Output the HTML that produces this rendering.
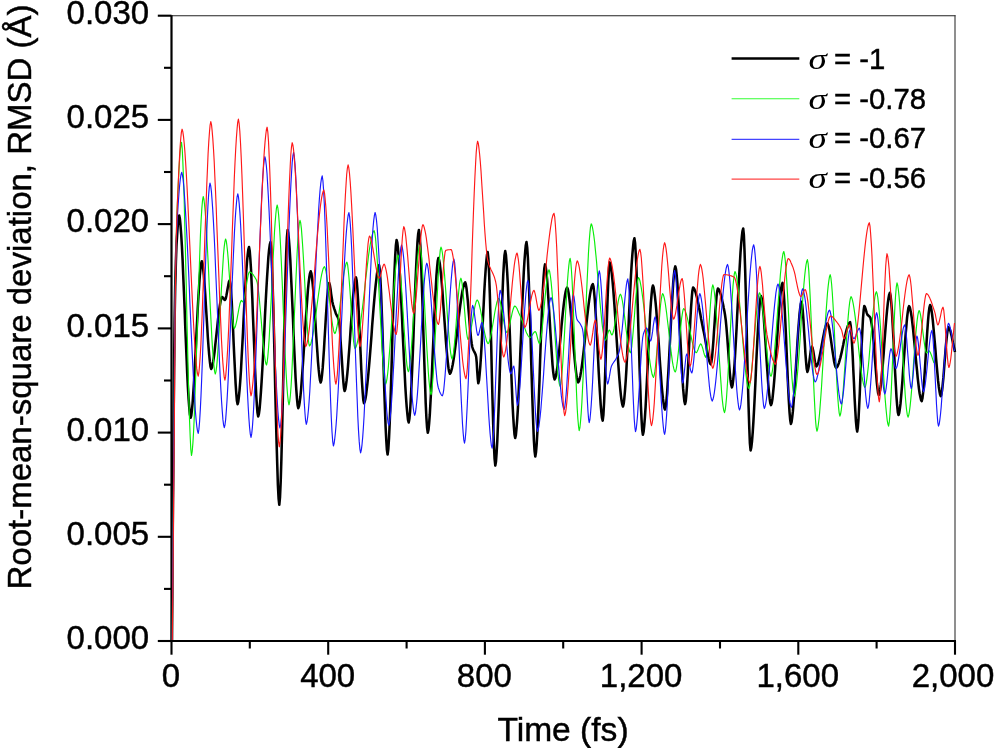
<!DOCTYPE html>
<html><head><meta charset="utf-8"><title>RMSD</title><style>html,body{margin:0;padding:0;background:#fff}body{width:995px;height:748px;overflow:hidden}</style></head><body><svg width="995" height="748" viewBox="0 0 995 748" style="display:block">
<rect width="995" height="748" fill="#fff"/>
<line x1="171.5" y1="15.7" x2="955.5" y2="15.7" stroke="#222" stroke-width="1.1"/>
<line x1="955.0" y1="15.2" x2="955.0" y2="641.0" stroke="#333" stroke-width="1.1"/>
<line x1="171.5" y1="15.2" x2="171.5" y2="642.0" stroke="#000" stroke-width="2.2"/>
<line x1="170.5" y1="641.0" x2="956.0" y2="641.0" stroke="#000" stroke-width="2.2"/>
<line x1="171.5" y1="641.0" x2="171.5" y2="654.7" stroke="#000" stroke-width="2.1"/>
<line x1="249.8" y1="641.0" x2="249.8" y2="648.5" stroke="#000" stroke-width="2.1"/>
<line x1="328.2" y1="641.0" x2="328.2" y2="654.7" stroke="#000" stroke-width="2.1"/>
<line x1="406.6" y1="641.0" x2="406.6" y2="648.5" stroke="#000" stroke-width="2.1"/>
<line x1="484.9" y1="641.0" x2="484.9" y2="654.7" stroke="#000" stroke-width="2.1"/>
<line x1="563.2" y1="641.0" x2="563.2" y2="648.5" stroke="#000" stroke-width="2.1"/>
<line x1="641.6" y1="641.0" x2="641.6" y2="654.7" stroke="#000" stroke-width="2.1"/>
<line x1="720.0" y1="641.0" x2="720.0" y2="648.5" stroke="#000" stroke-width="2.1"/>
<line x1="798.3" y1="641.0" x2="798.3" y2="654.7" stroke="#000" stroke-width="2.1"/>
<line x1="876.6" y1="641.0" x2="876.6" y2="648.5" stroke="#000" stroke-width="2.1"/>
<line x1="955.0" y1="641.0" x2="955.0" y2="654.7" stroke="#000" stroke-width="2.1"/>
<line x1="157.8" y1="641.0" x2="171.5" y2="641.0" stroke="#000" stroke-width="2.1"/>
<line x1="164.0" y1="588.9" x2="171.5" y2="588.9" stroke="#000" stroke-width="2.1"/>
<line x1="157.8" y1="536.8" x2="171.5" y2="536.8" stroke="#000" stroke-width="2.1"/>
<line x1="164.0" y1="484.7" x2="171.5" y2="484.7" stroke="#000" stroke-width="2.1"/>
<line x1="157.8" y1="432.6" x2="171.5" y2="432.6" stroke="#000" stroke-width="2.1"/>
<line x1="164.0" y1="380.5" x2="171.5" y2="380.5" stroke="#000" stroke-width="2.1"/>
<line x1="157.8" y1="328.4" x2="171.5" y2="328.4" stroke="#000" stroke-width="2.1"/>
<line x1="164.0" y1="276.2" x2="171.5" y2="276.2" stroke="#000" stroke-width="2.1"/>
<line x1="157.8" y1="224.1" x2="171.5" y2="224.1" stroke="#000" stroke-width="2.1"/>
<line x1="164.0" y1="172.0" x2="171.5" y2="172.0" stroke="#000" stroke-width="2.1"/>
<line x1="157.8" y1="119.9" x2="171.5" y2="119.9" stroke="#000" stroke-width="2.1"/>
<line x1="164.0" y1="67.8" x2="171.5" y2="67.8" stroke="#000" stroke-width="2.1"/>
<line x1="157.8" y1="15.7" x2="171.5" y2="15.7" stroke="#000" stroke-width="2.1"/>
<path d="M172.0,640.0 L172.5,567.3 L173.0,494.6 L173.5,430.0 L174.1,367.2 L174.6,320.0 L175.2,286.5 L175.9,261.1 L176.5,245.0 L177.2,233.9 L177.8,224.8 L178.5,218.5 L179.2,215.6 L179.9,218.8 L180.5,225.3 L181.2,234.5 L181.9,246.2 L182.6,259.9 L183.2,275.0 L183.9,291.3 L184.6,308.1 L185.2,325.3 L185.9,342.1 L186.6,358.4 L187.2,373.5 L187.9,387.2 L188.6,398.9 L189.3,408.1 L189.9,414.6 L190.6,417.8 L191.3,415.3 L191.9,410.3 L192.6,403.1 L193.2,394.1 L193.9,383.5 L194.6,371.8 L195.2,359.2 L195.9,346.1 L196.5,332.9 L197.2,319.8 L197.8,307.2 L198.5,295.5 L199.2,284.9 L199.8,275.9 L200.5,268.7 L201.1,263.7 L201.8,261.2 L202.5,263.5 L203.1,268.3 L203.8,275.2 L204.5,283.7 L205.2,293.5 L205.8,304.1 L206.5,315.1 L207.2,326.1 L207.8,336.7 L208.5,346.5 L209.2,355.0 L209.9,361.9 L210.5,366.7 L211.2,369.0 L211.9,367.7 L212.5,365.2 L213.2,361.5 L213.9,356.9 L214.6,351.6 L215.2,345.7 L215.9,339.4 L216.6,333.0 L217.3,326.6 L217.9,320.3 L218.6,314.4 L219.3,309.1 L220.0,304.5 L220.7,300.8 L221.3,298.3 L222.0,297.0 L222.6,297.3 L223.2,298.1 L223.8,298.9 L224.4,299.7 L225.0,300.0 L225.7,298.7 L226.3,295.9 L227.0,292.2 L227.7,288.1 L228.4,284.4 L229.0,281.6 L229.7,280.3 L230.4,283.7 L231.0,290.9 L231.7,301.1 L232.3,313.5 L233.0,327.5 L233.6,342.2 L234.3,357.0 L235.0,371.0 L235.6,383.4 L236.3,393.6 L236.9,400.8 L237.6,404.2 L238.3,401.7 L238.9,396.7 L239.6,389.5 L240.3,380.4 L241.0,369.8 L241.6,358.0 L242.3,345.4 L243.0,332.3 L243.6,319.0 L244.3,305.9 L245.0,293.3 L245.6,281.5 L246.3,270.9 L247.0,261.8 L247.7,254.6 L248.3,249.6 L249.0,247.1 L249.7,250.7 L250.3,258.3 L251.0,269.0 L251.6,282.4 L252.3,297.8 L252.9,314.4 L253.6,331.8 L254.3,349.1 L254.9,365.7 L255.6,381.1 L256.2,394.5 L256.9,405.2 L257.5,412.8 L258.2,416.4 L258.9,413.9 L259.6,408.8 L260.2,401.6 L260.9,392.4 L261.6,381.7 L262.3,369.7 L263.0,356.7 L263.7,343.1 L264.4,329.2 L265.0,315.4 L265.7,301.8 L266.4,288.8 L267.1,276.8 L267.8,266.1 L268.4,256.9 L269.1,249.7 L269.8,244.6 L270.5,242.1 L271.2,248.4 L271.9,261.7 L272.5,280.6 L273.2,304.0 L273.9,330.5 L274.6,358.9 L275.2,388.0 L275.9,416.4 L276.6,442.9 L277.3,466.3 L277.9,485.2 L278.6,498.5 L279.3,504.8 L280.0,497.3 L280.7,481.4 L281.4,458.8 L282.1,431.1 L282.8,400.1 L283.5,367.4 L284.1,334.7 L284.8,303.7 L285.5,276.0 L286.2,253.4 L286.9,237.5 L287.6,230.0 L288.3,233.1 L288.9,239.4 L289.6,248.5 L290.3,259.8 L290.9,273.1 L291.6,287.6 L292.3,303.1 L293.0,319.1 L293.6,335.1 L294.3,350.6 L295.0,365.1 L295.6,378.4 L296.3,389.7 L297.0,398.8 L297.6,405.1 L298.3,408.2 L299.0,406.2 L299.7,402.2 L300.4,396.5 L301.1,389.3 L301.7,380.9 L302.4,371.5 L303.1,361.3 L303.8,350.7 L304.5,339.8 L305.2,328.8 L305.9,318.2 L306.6,308.0 L307.3,298.6 L307.9,290.2 L308.6,283.0 L309.3,277.3 L310.0,273.3 L310.7,271.3 L311.4,273.4 L312.0,277.8 L312.7,284.1 L313.4,292.0 L314.0,301.1 L314.7,311.1 L315.4,321.6 L316.0,332.2 L316.7,342.7 L317.4,352.7 L318.0,361.8 L318.7,369.7 L319.4,376.0 L320.0,380.4 L320.7,382.5 L321.4,380.1 L322.0,375.1 L322.7,367.9 L323.3,359.1 L324.0,349.0 L324.6,338.3 L325.3,327.2 L325.9,316.5 L326.6,306.4 L327.2,297.6 L327.9,290.4 L328.5,285.4 L329.2,283.0 L329.8,284.8 L330.5,288.7 L331.1,293.6 L331.8,298.3 L332.4,302.0 L333.0,304.6 L333.7,306.8 L334.3,308.9 L335.0,310.8 L335.6,312.7 L336.2,314.3 L336.8,315.5 L337.5,316.7 L338.1,318.0 L338.7,319.9 L339.3,322.4 L339.9,328.3 L340.4,337.9 L341.0,347.0 L341.6,355.7 L342.2,365.2 L342.8,374.4 L343.4,382.4 L344.0,388.2 L344.6,391.0 L345.3,389.2 L345.9,385.6 L346.6,380.4 L347.3,373.8 L348.0,366.1 L348.6,357.6 L349.3,348.5 L350.0,339.0 L350.6,329.4 L351.3,319.9 L352.0,310.8 L352.6,302.3 L353.3,294.6 L354.0,288.0 L354.7,282.8 L355.3,279.2 L356.0,277.4 L356.7,280.8 L357.3,288.1 L358.0,298.5 L358.7,311.2 L359.3,325.4 L360.0,340.3 L360.7,355.3 L361.3,369.5 L362.0,382.2 L362.7,392.6 L363.3,399.9 L364.0,403.3 L364.7,401.8 L365.4,399.0 L366.1,394.9 L366.7,389.7 L367.4,383.6 L368.1,376.6 L368.8,368.9 L369.5,360.8 L370.2,352.1 L370.9,343.3 L371.6,334.2 L372.2,325.2 L372.9,316.4 L373.6,307.7 L374.3,299.6 L375.0,291.9 L375.7,284.9 L376.4,278.8 L377.0,273.6 L377.7,269.5 L378.4,266.7 L379.1,265.2 L379.8,269.8 L380.4,279.3 L381.1,293.0 L381.7,309.8 L382.4,328.9 L383.0,349.4 L383.7,370.3 L384.3,390.8 L385.0,409.9 L385.6,426.7 L386.3,440.4 L386.9,449.9 L387.6,454.5 L388.3,449.3 L389.0,438.5 L389.7,423.0 L390.4,404.0 L391.1,382.3 L391.8,359.1 L392.4,335.4 L393.1,312.2 L393.8,290.5 L394.5,271.5 L395.2,256.0 L395.9,245.2 L396.6,240.0 L397.3,242.6 L397.9,247.9 L398.6,255.5 L399.3,265.1 L400.0,276.4 L400.6,288.9 L401.3,302.5 L402.0,316.7 L402.6,331.2 L403.3,345.7 L404.0,359.9 L404.7,373.5 L405.3,386.0 L406.0,397.3 L406.7,406.9 L407.4,414.5 L408.0,419.8 L408.7,422.4 L409.4,418.7 L410.1,411.1 L410.7,400.2 L411.4,386.5 L412.1,370.8 L412.8,353.6 L413.5,335.4 L414.1,317.0 L414.8,298.8 L415.5,281.6 L416.2,265.9 L416.9,252.2 L417.5,241.3 L418.2,233.7 L418.9,230.0 L419.6,234.9 L420.3,245.1 L421.0,259.7 L421.6,277.8 L422.3,298.3 L423.0,320.2 L423.7,342.6 L424.4,364.5 L425.1,385.0 L425.7,403.1 L426.4,417.7 L427.1,427.9 L427.8,432.8 L428.5,429.8 L429.1,423.6 L429.8,414.7 L430.4,403.5 L431.1,390.6 L431.8,376.3 L432.4,361.1 L433.1,345.5 L433.8,329.8 L434.4,314.6 L435.1,300.3 L435.8,287.4 L436.4,276.2 L437.1,267.3 L437.7,261.1 L438.4,258.1 L439.1,259.9 L439.8,263.6 L440.4,268.9 L441.1,275.6 L441.8,283.4 L442.5,292.1 L443.1,301.4 L443.8,311.0 L444.5,320.8 L445.2,330.4 L445.8,339.7 L446.5,348.4 L447.2,356.2 L447.9,362.9 L448.5,368.2 L449.2,371.9 L449.9,373.7 L450.6,372.7 L451.3,370.8 L452.0,368.1 L452.7,364.7 L453.4,360.6 L454.1,356.0 L454.8,351.0 L455.5,345.5 L456.2,339.8 L456.9,334.0 L457.5,328.0 L458.2,322.0 L458.9,316.2 L459.6,310.5 L460.3,305.0 L461.0,300.0 L461.7,295.4 L462.4,291.3 L463.1,287.9 L463.8,285.2 L464.5,283.3 L465.2,282.3 L465.8,284.2 L466.5,288.2 L467.1,293.8 L467.8,300.6 L468.4,308.3 L469.1,316.3 L469.7,324.2 L470.4,331.7 L471.0,338.3 L471.7,343.5 L472.3,347.0 L472.9,349.0 L473.6,350.5 L474.2,351.6 L474.9,352.9 L475.6,354.5 L476.2,357.0 L476.7,362.3 L477.2,371.0 L477.8,379.2 L478.3,383.3 L479.0,380.5 L479.6,374.7 L480.3,366.3 L481.0,355.9 L481.7,344.0 L482.3,331.1 L483.0,317.7 L483.7,304.3 L484.3,291.4 L485.0,279.5 L485.7,269.1 L486.4,260.7 L487.0,254.9 L487.7,252.1 L488.4,258.8 L489.1,273.1 L489.8,293.4 L490.5,317.9 L491.2,344.9 L491.8,372.8 L492.5,399.8 L493.2,424.3 L493.9,444.6 L494.6,458.9 L495.3,465.6 L496.0,461.5 L496.6,453.0 L497.3,440.8 L497.9,425.6 L498.6,408.1 L499.3,388.9 L499.9,368.6 L500.6,348.1 L501.2,327.8 L501.9,308.6 L502.6,291.1 L503.2,275.9 L503.9,263.7 L504.5,255.2 L505.2,251.1 L505.9,254.7 L506.5,262.1 L507.2,272.7 L507.9,285.9 L508.5,301.2 L509.2,318.0 L509.9,335.6 L510.5,353.5 L511.2,371.1 L511.9,387.9 L512.5,403.2 L513.2,416.4 L513.9,427.0 L514.5,434.4 L515.2,438.0 L515.9,434.9 L516.5,428.6 L517.2,419.6 L517.9,408.3 L518.5,395.1 L519.2,380.4 L519.9,364.7 L520.5,348.3 L521.2,331.8 L521.8,315.4 L522.5,299.7 L523.2,285.0 L523.8,271.8 L524.5,260.5 L525.2,251.5 L525.8,245.2 L526.5,242.1 L527.2,247.3 L527.9,258.1 L528.5,273.5 L529.2,292.6 L529.9,314.3 L530.6,337.4 L531.2,361.2 L531.9,384.3 L532.6,406.0 L533.3,425.1 L533.9,440.5 L534.6,451.3 L535.3,456.5 L536.0,452.4 L536.7,443.8 L537.4,431.6 L538.1,416.4 L538.8,399.0 L539.5,380.1 L540.1,360.4 L540.8,340.8 L541.5,321.9 L542.2,304.5 L542.9,289.3 L543.6,277.1 L544.3,268.5 L545.0,264.4 L545.7,266.9 L546.4,272.0 L547.1,279.3 L547.7,288.4 L548.4,298.8 L549.1,310.1 L549.8,321.9 L550.5,333.7 L551.2,345.0 L551.9,355.4 L552.5,364.5 L553.2,371.8 L553.9,376.9 L554.6,379.4 L555.3,378.1 L556.0,375.4 L556.7,371.6 L557.4,366.7 L558.1,361.1 L558.8,354.8 L559.5,347.9 L560.2,340.8 L560.9,333.4 L561.5,326.1 L562.2,319.0 L562.9,312.1 L563.6,305.8 L564.3,300.2 L565.0,295.3 L565.7,291.5 L566.4,288.8 L567.1,287.5 L567.8,289.1 L568.5,292.5 L569.2,297.3 L569.9,303.4 L570.6,310.4 L571.3,318.2 L572.0,326.4 L572.7,334.9 L573.3,343.5 L574.0,351.7 L574.7,359.5 L575.4,366.5 L576.1,372.6 L576.8,377.4 L577.5,380.8 L578.2,382.4 L578.9,381.3 L579.6,379.1 L580.3,375.9 L581.0,371.9 L581.7,367.2 L582.4,361.9 L583.1,356.0 L583.8,349.8 L584.5,343.3 L585.2,336.6 L585.8,329.9 L586.5,323.2 L587.2,316.7 L587.9,310.5 L588.6,304.6 L589.3,299.3 L590.0,294.6 L590.7,290.6 L591.4,287.4 L592.1,285.2 L592.8,284.1 L593.5,286.7 L594.1,292.1 L594.8,299.9 L595.4,309.5 L596.1,320.7 L596.8,332.9 L597.4,345.8 L598.1,358.9 L598.7,371.8 L599.4,384.0 L600.1,395.2 L600.7,404.8 L601.4,412.6 L602.0,418.0 L602.7,420.6 L603.4,414.8 L604.1,402.3 L604.8,384.8 L605.5,364.0 L606.2,341.5 L606.9,319.0 L607.6,298.2 L608.3,280.7 L609.0,268.2 L609.7,262.4 L610.4,264.3 L611.1,268.1 L611.8,273.6 L612.5,280.5 L613.2,288.7 L613.9,297.8 L614.6,307.7 L615.3,318.2 L616.0,329.0 L616.7,339.9 L617.4,350.7 L618.1,361.2 L618.8,371.1 L619.5,380.2 L620.2,388.4 L620.9,395.3 L621.6,400.8 L622.3,404.6 L623.0,406.5 L623.7,403.8 L624.3,398.5 L625.0,390.7 L625.7,381.0 L626.4,369.7 L627.0,357.1 L627.7,343.6 L628.4,329.5 L629.0,315.3 L629.7,301.2 L630.4,287.7 L631.0,275.1 L631.7,263.8 L632.4,254.1 L633.1,246.3 L633.7,241.0 L634.4,238.3 L635.1,243.0 L635.7,252.9 L636.4,267.1 L637.0,284.6 L637.7,304.4 L638.3,325.6 L639.0,347.4 L639.6,368.6 L640.3,388.4 L640.9,405.9 L641.6,420.1 L642.2,430.0 L642.9,434.7 L643.6,431.8 L644.2,425.9 L644.9,417.5 L645.6,406.9 L646.2,394.7 L646.9,381.3 L647.6,367.3 L648.2,352.9 L648.9,338.9 L649.6,325.5 L650.2,313.3 L650.9,302.7 L651.6,294.3 L652.2,288.4 L652.9,285.5 L653.6,287.3 L654.2,290.9 L654.9,296.1 L655.6,302.6 L656.3,310.2 L656.9,318.8 L657.6,328.0 L658.3,337.6 L659.0,347.5 L659.6,357.4 L660.3,367.0 L661.0,376.2 L661.6,384.8 L662.3,392.4 L663.0,398.9 L663.7,404.1 L664.3,407.7 L665.0,409.5 L665.7,406.8 L666.4,401.1 L667.1,393.0 L667.7,382.8 L668.4,371.1 L669.1,358.3 L669.8,344.8 L670.5,331.1 L671.2,317.6 L671.9,304.8 L672.6,293.1 L673.2,282.9 L673.9,274.8 L674.6,269.1 L675.3,266.4 L676.0,269.0 L676.6,274.5 L677.3,282.3 L677.9,292.1 L678.6,303.3 L679.2,315.7 L679.9,328.6 L680.5,341.9 L681.2,354.8 L681.8,367.2 L682.5,378.4 L683.1,388.2 L683.8,396.0 L684.4,401.5 L685.1,404.1 L685.8,400.9 L686.4,394.2 L687.1,384.6 L687.8,372.8 L688.4,359.7 L689.1,345.8 L689.8,331.9 L690.4,318.8 L691.1,307.0 L691.8,297.4 L692.4,290.7 L693.1,287.5 L693.8,288.1 L694.4,289.3 L695.1,290.9 L695.8,293.0 L696.4,295.5 L697.1,298.2 L697.8,301.3 L698.5,304.5 L699.1,308.0 L699.8,311.5 L700.5,315.1 L701.1,318.7 L701.8,322.2 L702.5,325.7 L703.1,328.9 L703.8,332.0 L704.5,335.4 L705.2,339.2 L705.9,343.3 L706.6,347.4 L707.3,351.5 L708.0,355.3 L708.7,358.7 L709.4,361.4 L710.1,363.4 L710.8,364.3 L711.4,361.9 L712.1,356.8 L712.7,349.6 L713.4,340.9 L714.0,331.3 L714.7,321.5 L715.3,311.9 L716.0,303.2 L716.6,296.0 L717.3,290.9 L717.9,288.5 L718.5,289.1 L719.2,290.1 L719.8,291.6 L720.5,293.6 L721.1,295.9 L721.8,298.5 L722.4,301.4 L723.1,304.5 L723.7,307.8 L724.4,311.2 L725.0,314.7 L725.7,319.7 L726.4,326.8 L727.1,335.4 L727.8,344.9 L728.5,354.7 L729.1,364.2 L729.8,372.8 L730.5,379.9 L731.2,385.0 L731.9,387.4 L732.6,384.9 L733.2,379.8 L733.9,372.5 L734.6,363.3 L735.2,352.6 L735.9,340.7 L736.6,327.9 L737.2,314.7 L737.9,301.2 L738.5,288.0 L739.2,275.2 L739.9,263.3 L740.5,252.6 L741.2,243.4 L741.9,236.1 L742.5,231.0 L743.2,228.5 L743.9,235.5 L744.5,250.4 L745.2,271.4 L745.9,296.9 L746.6,325.0 L747.2,353.9 L747.9,382.0 L748.6,407.5 L749.3,428.5 L749.9,443.4 L750.6,450.4 L751.3,447.4 L752.0,441.3 L752.7,432.6 L753.4,421.6 L754.1,409.0 L754.8,395.2 L755.5,380.6 L756.1,365.9 L756.8,351.3 L757.5,337.5 L758.2,324.9 L758.9,313.9 L759.6,305.2 L760.3,299.1 L761.0,296.1 L761.7,298.2 L762.3,302.5 L763.0,308.7 L763.7,316.4 L764.3,325.3 L765.0,335.1 L765.7,345.4 L766.3,355.8 L767.0,366.1 L767.7,375.9 L768.3,384.8 L769.0,392.5 L769.7,398.7 L770.3,403.0 L771.0,405.1 L771.7,403.2 L772.4,399.3 L773.0,393.6 L773.7,386.6 L774.4,378.4 L775.1,369.2 L775.7,359.4 L776.4,349.2 L777.1,338.8 L777.8,328.6 L778.4,318.8 L779.1,309.6 L779.8,301.4 L780.5,294.4 L781.1,288.7 L781.8,284.8 L782.5,282.9 L783.2,286.8 L783.9,294.9 L784.6,306.5 L785.3,320.7 L786.0,336.6 L786.7,353.4 L787.4,370.2 L788.1,386.1 L788.8,400.3 L789.5,411.9 L790.2,420.0 L790.9,423.9 L791.6,421.8 L792.2,417.4 L792.9,411.2 L793.5,403.4 L794.2,394.4 L794.9,384.4 L795.5,373.7 L796.2,362.8 L796.9,351.9 L797.5,341.2 L798.2,331.2 L798.9,322.2 L799.5,314.4 L800.2,308.2 L800.8,303.8 L801.5,301.7 L802.2,304.8 L802.8,311.4 L803.5,320.5 L804.1,331.2 L804.8,342.4 L805.4,353.1 L806.1,362.2 L806.7,368.8 L807.4,371.9 L808.0,370.2 L808.7,366.6 L809.3,361.8 L810.0,356.6 L810.6,351.8 L811.3,348.2 L811.9,346.5 L812.5,347.8 L813.2,350.7 L813.8,354.4 L814.4,358.5 L815.0,362.2 L815.7,365.1 L816.3,366.4 L817.0,365.7 L817.7,364.1 L818.4,361.9 L819.0,359.2 L819.7,356.0 L820.4,352.5 L821.1,348.7 L821.8,344.8 L822.5,341.0 L823.2,337.2 L823.9,333.7 L824.5,330.5 L825.2,327.8 L825.9,325.6 L826.6,324.0 L827.3,323.3 L828.0,324.4 L828.7,326.6 L829.4,329.8 L830.0,333.8 L830.7,338.3 L831.4,343.1 L832.1,348.1 L832.8,352.9 L833.5,357.4 L834.1,361.4 L834.8,364.6 L835.5,366.8 L836.2,367.9 L836.9,367.3 L837.6,366.2 L838.3,364.6 L839.0,362.6 L839.7,360.2 L840.4,357.6 L841.1,354.6 L841.8,351.6 L842.5,348.3 L843.2,345.1 L843.8,341.8 L844.5,338.5 L845.2,335.5 L845.9,332.5 L846.6,329.9 L847.3,327.5 L848.0,325.5 L848.7,323.9 L849.4,322.8 L850.1,322.2 L850.7,325.6 L851.4,333.0 L852.0,343.4 L852.7,355.9 L853.3,369.8 L854.0,384.0 L854.6,397.9 L855.3,410.4 L855.9,420.8 L856.6,428.2 L857.2,431.6 L857.8,427.7 L858.5,419.2 L859.1,407.3 L859.8,392.9 L860.4,377.0 L861.1,360.6 L861.7,344.7 L862.4,330.3 L863.0,318.4 L863.7,309.9 L864.3,306.0 L864.9,306.9 L865.5,308.7 L866.2,311.0 L866.8,313.1 L867.4,314.6 L868.0,315.3 L868.6,315.8 L869.1,316.2 L869.7,316.7 L870.3,317.6 L870.9,319.9 L871.6,323.7 L872.2,328.0 L872.9,333.4 L873.5,340.4 L874.2,348.5 L874.8,357.3 L875.5,366.1 L876.2,374.6 L876.8,382.2 L877.5,388.5 L878.1,393.0 L878.8,395.1 L879.5,393.3 L880.2,389.7 L880.9,384.5 L881.6,378.0 L882.3,370.4 L883.0,362.0 L883.7,353.1 L884.3,343.9 L885.0,334.8 L885.7,325.9 L886.4,317.5 L887.1,309.9 L887.8,303.4 L888.5,298.2 L889.2,294.6 L889.9,292.8 L890.6,295.7 L891.2,301.9 L891.9,310.7 L892.5,321.6 L893.2,333.9 L893.9,347.1 L894.5,360.7 L895.2,373.9 L895.9,386.2 L896.5,397.1 L897.2,405.9 L897.8,412.1 L898.5,415.0 L899.2,413.1 L899.8,409.2 L900.5,403.7 L901.1,396.8 L901.8,388.7 L902.5,379.8 L903.1,370.3 L903.8,360.6 L904.5,350.8 L905.1,341.3 L905.8,332.4 L906.5,324.3 L907.1,317.4 L907.8,311.9 L908.4,308.0 L909.1,306.1 L909.8,307.4 L910.4,309.9 L911.1,313.5 L911.8,318.1 L912.4,323.4 L913.1,329.4 L913.7,336.0 L914.4,342.9 L915.1,350.0 L915.7,357.2 L916.4,364.3 L917.1,371.2 L917.7,377.8 L918.4,383.8 L919.0,389.1 L919.7,393.7 L920.4,397.3 L921.0,399.8 L921.7,401.1 L922.4,398.5 L923.1,392.9 L923.8,385.0 L924.5,375.3 L925.2,364.5 L925.9,353.1 L926.6,341.6 L927.3,330.8 L928.0,321.1 L928.7,313.2 L929.4,307.6 L930.1,305.0 L930.8,306.6 L931.4,309.8 L932.1,314.5 L932.8,320.3 L933.4,327.0 L934.1,334.5 L934.8,342.4 L935.5,350.6 L936.1,358.8 L936.8,366.7 L937.5,374.2 L938.1,380.9 L938.8,386.7 L939.5,391.4 L940.1,394.6 L940.8,396.2 L941.4,394.3 L942.1,390.3 L942.7,384.6 L943.4,377.7 L944.0,369.9 L944.6,361.7 L945.3,353.4 L945.9,345.6 L946.6,338.7 L947.2,333.0 L947.9,329.0 L948.5,327.1 L949.1,327.8 L949.8,329.3 L950.5,331.3 L951.1,333.9 L951.8,336.8 L952.4,339.9 L953.0,343.1 L953.7,346.3 L954.4,349.3 L955.0,352.0" fill="none" stroke="#000" stroke-width="2.55" stroke-linejoin="round"/>
<path d="M172.2,640.0 L172.8,570.9 L173.4,501.9 L174.0,430.0 L174.5,358.0 L175.0,300.0 L175.6,265.9 L176.2,239.8 L176.7,220.0 L177.3,205.0 L178.0,189.4 L178.7,175.0 L179.4,162.5 L180.1,152.5 L180.8,145.6 L181.5,142.3 L182.2,148.3 L182.8,160.7 L183.5,178.5 L184.2,200.7 L184.8,226.3 L185.5,254.4 L186.2,283.9 L186.8,313.9 L187.5,343.4 L188.2,371.5 L188.8,397.1 L189.5,419.3 L190.2,437.1 L190.8,449.5 L191.5,455.5 L192.2,451.4 L192.9,443.1 L193.6,431.2 L194.3,416.3 L194.9,398.8 L195.6,379.4 L196.3,358.6 L197.0,337.0 L197.7,315.0 L198.4,293.4 L199.1,272.6 L199.8,253.2 L200.4,235.7 L201.1,220.8 L201.8,208.9 L202.5,200.6 L203.2,196.5 L203.9,199.1 L204.5,204.2 L205.2,211.6 L205.9,220.9 L206.6,231.9 L207.2,244.1 L207.9,257.3 L208.6,271.1 L209.2,285.2 L209.9,299.4 L210.6,313.2 L211.3,326.4 L211.9,338.6 L212.6,349.6 L213.3,358.9 L214.0,366.3 L214.6,371.4 L215.3,374.0 L216.0,371.4 L216.7,366.1 L217.4,358.4 L218.0,348.8 L218.7,337.8 L219.4,325.7 L220.1,313.0 L220.8,300.0 L221.5,287.3 L222.2,275.2 L222.9,264.2 L223.5,254.6 L224.2,246.9 L224.9,241.6 L225.6,239.0 L226.3,241.2 L226.9,245.7 L227.6,252.1 L228.3,260.1 L228.9,269.1 L229.6,278.8 L230.3,288.7 L231.0,298.4 L231.6,307.4 L232.3,315.4 L233.0,321.8 L233.6,326.3 L234.3,328.5 L234.9,327.6 L235.6,325.7 L236.2,323.1 L236.9,319.8 L237.5,316.3 L238.2,312.6 L238.8,309.1 L239.5,305.8 L240.1,303.2 L240.8,301.3 L241.4,300.4 L241.9,300.8 L242.5,301.6 L243.0,302.0 L243.6,300.9 L244.3,298.5 L244.9,295.2 L245.6,291.2 L246.2,286.9 L246.8,282.7 L247.5,278.7 L248.1,275.4 L248.8,273.0 L249.4,271.9 L250.0,272.1 L250.7,272.4 L251.3,272.8 L252.0,273.4 L252.6,274.1 L253.3,274.9 L253.9,275.8 L254.6,276.8 L255.2,277.9 L255.9,279.0 L256.5,280.3 L257.2,282.5 L257.8,286.3 L258.5,291.3 L259.2,297.5 L259.8,304.5 L260.5,312.0 L261.2,319.9 L261.8,327.8 L262.5,335.6 L263.2,343.0 L263.8,349.7 L264.5,355.5 L265.2,360.2 L265.8,363.4 L266.5,365.0 L267.2,362.2 L267.8,356.6 L268.5,348.4 L269.2,338.2 L269.8,326.3 L270.5,313.2 L271.2,299.3 L271.9,285.0 L272.5,270.7 L273.2,256.8 L273.9,243.7 L274.5,231.8 L275.2,221.6 L275.9,213.5 L276.5,207.8 L277.2,205.0 L277.9,208.2 L278.6,214.5 L279.3,223.7 L280.0,235.3 L280.7,248.7 L281.4,263.7 L282.1,279.8 L282.8,296.4 L283.4,313.4 L284.1,330.0 L284.8,346.1 L285.5,361.1 L286.2,374.5 L286.9,386.1 L287.6,395.3 L288.3,401.6 L289.0,404.8 L289.7,401.6 L290.4,395.1 L291.1,385.7 L291.8,373.9 L292.4,360.2 L293.1,345.1 L293.8,329.1 L294.5,312.6 L295.2,296.0 L295.9,280.0 L296.6,264.9 L297.2,251.2 L297.9,239.4 L298.6,230.0 L299.3,223.5 L300.0,220.3 L300.7,223.0 L301.4,228.6 L302.0,236.6 L302.7,246.5 L303.4,257.9 L304.1,270.3 L304.8,283.2 L305.4,296.0 L306.1,308.4 L306.8,319.8 L307.5,329.7 L308.1,337.7 L308.8,343.3 L309.5,346.0 L310.2,345.1 L310.9,343.5 L311.5,341.2 L312.2,338.2 L312.9,334.6 L313.6,330.6 L314.2,326.2 L314.9,321.5 L315.6,316.6 L316.3,311.5 L316.9,306.3 L317.6,301.1 L318.3,296.0 L319.0,291.1 L319.7,286.4 L320.3,282.0 L321.0,278.0 L321.7,274.4 L322.4,271.4 L323.0,269.1 L323.7,267.5 L324.4,266.6 L325.1,267.9 L325.8,270.5 L326.5,274.3 L327.2,279.1 L327.9,284.6 L328.6,290.6 L329.3,296.9 L329.9,303.3 L330.6,309.6 L331.3,315.6 L332.0,321.1 L332.7,325.9 L333.4,329.7 L334.1,332.3 L334.8,333.6 L335.5,332.6 L336.1,330.5 L336.8,327.5 L337.5,323.8 L338.2,319.4 L338.8,314.5 L339.5,309.2 L340.2,303.6 L340.9,297.9 L341.5,292.2 L342.2,286.6 L342.9,281.3 L343.5,276.4 L344.2,272.0 L344.9,268.3 L345.6,265.3 L346.2,263.2 L346.9,262.2 L347.6,264.6 L348.2,269.6 L348.9,276.7 L349.6,285.4 L350.3,295.1 L350.9,305.4 L351.6,315.7 L352.3,325.4 L353.0,334.1 L353.6,341.2 L354.3,346.2 L355.0,348.6 L355.7,347.7 L356.4,346.1 L357.0,343.8 L357.7,340.8 L358.4,337.3 L359.1,333.3 L359.8,328.8 L360.5,324.0 L361.1,318.8 L361.8,313.3 L362.5,307.6 L363.2,301.7 L363.9,295.7 L364.6,289.6 L365.2,283.5 L365.9,277.5 L366.6,271.6 L367.3,265.9 L368.0,260.4 L368.6,255.2 L369.3,250.4 L370.0,245.9 L370.7,241.9 L371.4,238.4 L372.1,235.4 L372.7,233.1 L373.4,231.5 L374.1,230.6 L374.8,233.0 L375.5,237.9 L376.1,245.0 L376.8,253.9 L377.5,264.2 L378.2,275.7 L378.8,288.1 L379.5,300.9 L380.2,313.9 L380.9,326.7 L381.5,339.1 L382.2,350.6 L382.9,360.9 L383.6,369.8 L384.2,376.9 L384.9,381.8 L385.6,384.2 L386.3,382.3 L387.0,378.6 L387.7,373.2 L388.4,366.4 L389.0,358.4 L389.7,349.6 L390.4,340.0 L391.1,329.9 L391.8,319.6 L392.5,309.3 L393.2,299.2 L393.9,289.6 L394.6,280.8 L395.2,272.8 L395.9,266.0 L396.6,260.6 L397.3,256.9 L398.0,255.0 L398.7,257.2 L399.4,261.9 L400.1,268.5 L400.7,276.7 L401.4,286.3 L402.1,296.8 L402.8,307.8 L403.5,318.9 L404.2,329.9 L404.9,340.4 L405.6,350.0 L406.2,358.2 L406.9,364.8 L407.6,369.5 L408.3,371.7 L409.0,369.7 L409.6,365.6 L410.3,359.8 L411.0,352.5 L411.7,344.0 L412.3,334.5 L413.0,324.3 L413.7,313.7 L414.3,303.0 L415.0,292.4 L415.7,282.2 L416.3,272.7 L417.0,264.2 L417.7,256.9 L418.4,251.1 L419.0,247.0 L419.7,245.0 L420.4,247.4 L421.0,252.1 L421.7,259.0 L422.4,267.7 L423.0,277.7 L423.7,289.0 L424.4,301.0 L425.0,313.5 L425.7,326.1 L426.3,338.6 L427.0,350.6 L427.7,361.9 L428.3,371.9 L429.0,380.6 L429.7,387.5 L430.3,392.2 L431.0,394.6 L431.7,391.8 L432.3,385.9 L433.0,377.6 L433.7,367.1 L434.3,355.0 L435.0,341.8 L435.7,327.9 L436.3,313.8 L437.0,299.9 L437.7,286.7 L438.3,274.6 L439.0,264.1 L439.7,255.8 L440.3,249.9 L441.0,247.1 L441.7,249.0 L442.4,253.0 L443.1,258.7 L443.8,265.8 L444.5,274.1 L445.2,283.3 L445.9,293.0 L446.6,303.1 L447.2,313.1 L447.9,322.8 L448.6,332.0 L449.3,340.3 L450.0,347.4 L450.7,353.1 L451.4,357.1 L452.1,359.0 L452.8,357.1 L453.5,353.0 L454.1,347.2 L454.8,340.0 L455.5,331.8 L456.2,323.1 L456.8,314.1 L457.5,305.4 L458.2,297.2 L458.9,290.0 L459.5,284.2 L460.2,280.1 L460.9,278.2 L461.5,280.1 L462.2,284.2 L462.8,290.1 L463.5,297.1 L464.1,304.8 L464.8,312.9 L465.4,320.6 L466.1,327.6 L466.7,333.5 L467.4,337.6 L468.0,339.5 L468.7,338.7 L469.3,336.9 L470.0,334.4 L470.6,331.3 L471.3,327.7 L471.9,323.8 L472.6,319.8 L473.3,315.7 L473.9,311.8 L474.6,308.2 L475.2,305.1 L475.9,302.6 L476.5,300.8 L477.2,300.0 L477.9,300.8 L478.6,302.3 L479.2,304.5 L479.9,307.3 L480.6,310.5 L481.3,314.1 L482.0,317.9 L482.6,321.8 L483.3,325.7 L484.0,329.5 L484.7,333.1 L485.4,336.3 L486.1,339.1 L486.7,341.3 L487.4,342.8 L488.1,343.6 L488.8,342.8 L489.4,341.2 L490.1,338.9 L490.8,336.0 L491.4,332.7 L492.1,328.9 L492.7,325.0 L493.4,321.0 L494.1,316.9 L494.7,313.0 L495.4,309.2 L496.1,305.9 L496.7,303.0 L497.4,300.7 L498.0,299.1 L498.7,298.3 L499.4,299.2 L500.1,301.2 L500.7,304.0 L501.4,307.5 L502.1,311.3 L502.8,315.4 L503.4,319.5 L504.1,323.3 L504.8,326.8 L505.4,329.6 L506.1,331.6 L506.8,332.5 L507.5,331.8 L508.1,330.2 L508.8,328.1 L509.5,325.4 L510.1,322.4 L510.8,319.2 L511.5,316.1 L512.1,313.1 L512.8,310.4 L513.5,308.3 L514.1,306.7 L514.8,306.0 L515.4,306.4 L516.1,307.2 L516.8,308.3 L517.4,309.6 L518.0,311.1 L518.7,312.7 L519.4,314.2 L520.0,315.6 L520.7,317.0 L521.3,318.6 L522.0,320.3 L522.6,322.1 L523.3,324.0 L524.0,325.9 L524.6,327.8 L525.3,329.6 L525.9,331.3 L526.6,332.9 L527.3,334.3 L527.9,335.5 L528.6,336.5 L529.2,337.2 L529.9,337.5 L530.6,337.2 L531.2,336.5 L531.9,335.6 L532.6,334.5 L533.3,333.4 L533.9,332.5 L534.6,331.8 L535.3,331.5 L535.9,332.3 L536.5,334.0 L537.1,336.3 L537.7,338.8 L538.3,341.1 L538.9,342.8 L539.5,343.6 L540.2,342.0 L540.9,338.7 L541.5,334.0 L542.2,328.2 L542.9,321.5 L543.6,314.2 L544.2,306.7 L544.9,299.2 L545.6,291.9 L546.3,285.2 L547.0,279.4 L547.6,274.7 L548.3,271.4 L549.0,269.8 L549.7,271.8 L550.4,276.0 L551.1,281.9 L551.8,289.3 L552.5,298.0 L553.2,307.5 L553.9,317.7 L554.5,328.1 L555.2,338.5 L555.9,348.7 L556.6,358.2 L557.3,366.9 L558.0,374.3 L558.7,380.2 L559.4,384.4 L560.1,386.4 L560.8,383.9 L561.4,378.9 L562.1,371.6 L562.8,362.5 L563.4,352.1 L564.1,340.6 L564.8,328.5 L565.4,316.3 L566.1,304.2 L566.8,292.7 L567.4,282.3 L568.1,273.2 L568.8,265.9 L569.4,260.9 L570.1,258.4 L570.8,262.1 L571.4,269.8 L572.1,280.7 L572.7,294.4 L573.4,310.0 L574.0,326.9 L574.7,344.6 L575.3,362.2 L576.0,379.1 L576.6,394.7 L577.2,408.4 L577.9,419.3 L578.6,427.0 L579.2,430.7 L579.9,427.7 L580.5,421.7 L581.2,413.1 L581.9,402.2 L582.5,389.5 L583.2,375.2 L583.9,359.9 L584.5,343.7 L585.2,327.2 L585.9,310.8 L586.5,294.6 L587.2,279.3 L587.9,265.0 L588.5,252.3 L589.2,241.4 L589.9,232.8 L590.5,226.8 L591.2,223.8 L591.9,225.1 L592.5,227.7 L593.2,231.5 L593.9,236.2 L594.6,241.8 L595.2,248.1 L595.9,255.0 L596.6,262.4 L597.2,270.1 L597.9,278.0 L598.6,286.0 L599.3,293.9 L599.9,301.6 L600.6,309.0 L601.3,315.9 L601.9,322.2 L602.6,327.8 L603.3,332.5 L604.0,336.3 L604.6,338.9 L605.3,340.2 L606.0,339.3 L606.6,337.5 L607.3,335.1 L608.0,332.7 L608.6,330.9 L609.3,330.0 L610.0,330.8 L610.6,332.5 L611.3,334.2 L612.0,335.0 L612.7,333.9 L613.4,331.5 L614.1,328.2 L614.8,324.1 L615.5,319.5 L616.2,314.6 L616.9,309.7 L617.6,305.1 L618.3,301.0 L619.0,297.7 L619.7,295.3 L620.4,294.2 L621.1,295.3 L621.7,297.6 L622.4,301.0 L623.1,305.1 L623.7,309.9 L624.4,315.1 L625.1,320.6 L625.7,326.3 L626.4,331.8 L627.1,337.0 L627.7,341.8 L628.4,345.9 L629.1,349.3 L629.7,351.6 L630.4,352.7 L631.1,350.6 L631.8,346.3 L632.4,340.1 L633.1,332.5 L633.8,324.0 L634.5,315.1 L635.1,306.2 L635.8,297.7 L636.5,290.1 L637.1,283.9 L637.8,279.6 L638.5,277.5 L639.2,278.6 L639.9,280.6 L640.5,283.6 L641.2,287.3 L641.9,291.8 L642.6,296.8 L643.3,302.4 L644.0,308.3 L644.6,314.5 L645.3,320.9 L646.0,327.4 L646.7,334.0 L647.4,340.4 L648.0,346.6 L648.7,352.5 L649.4,358.1 L650.1,363.1 L650.8,367.6 L651.5,371.3 L652.1,374.3 L652.8,376.3 L653.5,377.4 L654.1,375.6 L654.8,371.9 L655.5,366.5 L656.1,359.9 L656.8,352.3 L657.4,344.1 L658.0,335.5 L658.7,326.9 L659.4,318.7 L660.0,311.1 L660.6,304.5 L661.3,299.1 L662.0,295.4 L662.6,293.6 L663.3,294.6 L663.9,296.7 L664.6,299.7 L665.3,303.5 L665.9,307.9 L666.6,312.9 L667.2,318.3 L667.9,324.0 L668.6,329.8 L669.2,335.8 L669.9,341.6 L670.6,347.3 L671.2,352.7 L671.9,357.7 L672.5,362.1 L673.2,365.9 L673.9,368.9 L674.5,371.0 L675.2,372.0 L675.9,370.5 L676.5,367.3 L677.2,362.7 L677.8,357.1 L678.5,350.7 L679.1,343.8 L679.8,336.8 L680.4,329.9 L681.1,323.5 L681.7,317.9 L682.4,313.3 L683.0,310.1 L683.7,308.6 L684.4,309.2 L685.1,310.5 L685.8,312.4 L686.5,314.7 L687.2,317.4 L687.9,320.4 L688.6,323.7 L689.3,327.1 L690.0,330.7 L690.6,334.2 L691.3,337.6 L692.0,340.9 L692.7,343.9 L693.4,346.6 L694.1,348.9 L694.8,350.8 L695.5,352.1 L696.2,352.7 L696.9,352.1 L697.5,350.8 L698.2,349.2 L698.8,347.3 L699.5,345.7 L700.1,344.4 L700.8,343.8 L701.4,344.5 L702.0,346.1 L702.7,348.2 L703.3,350.6 L703.9,352.9 L704.5,355.0 L705.2,356.6 L705.8,357.3 L706.5,354.6 L707.2,348.9 L707.9,340.9 L708.6,331.4 L709.3,321.1 L710.0,310.8 L710.7,301.3 L711.4,293.3 L712.1,287.6 L712.8,284.9 L713.5,286.9 L714.2,291.0 L714.9,296.9 L715.6,304.2 L716.2,312.9 L716.9,322.4 L717.6,332.7 L718.3,343.3 L719.0,354.2 L719.7,364.8 L720.4,375.1 L721.1,384.6 L721.7,393.3 L722.4,400.6 L723.1,406.5 L723.8,410.6 L724.5,412.6 L725.2,410.1 L725.8,405.1 L726.5,398.0 L727.1,389.0 L727.8,378.5 L728.4,367.0 L729.1,354.7 L729.8,342.0 L730.4,329.4 L731.1,317.1 L731.7,305.6 L732.4,295.1 L733.0,286.1 L733.7,279.0 L734.3,274.0 L735.0,271.5 L735.7,272.9 L736.4,275.8 L737.1,279.9 L737.8,285.0 L738.5,291.1 L739.1,298.0 L739.8,305.4 L740.5,313.4 L741.2,321.6 L741.9,330.0 L742.6,338.4 L743.3,346.6 L744.0,354.6 L744.7,362.0 L745.3,368.9 L746.0,375.0 L746.7,380.1 L747.4,384.2 L748.1,387.1 L748.8,388.5 L749.5,386.8 L750.1,383.4 L750.8,378.6 L751.5,372.5 L752.1,365.4 L752.8,357.5 L753.5,349.2 L754.1,340.7 L754.8,332.1 L755.5,323.8 L756.2,315.9 L756.8,308.8 L757.5,302.7 L758.2,297.9 L758.8,294.5 L759.5,292.8 L760.2,294.1 L760.9,296.8 L761.5,300.6 L762.2,305.4 L762.9,311.1 L763.6,317.3 L764.2,324.0 L764.9,331.0 L765.6,338.1 L766.3,345.1 L766.9,351.8 L767.6,358.0 L768.3,363.7 L769.0,368.5 L769.6,372.3 L770.3,375.0 L771.0,376.3 L771.7,374.6 L772.3,371.3 L773.0,366.6 L773.7,360.6 L774.4,353.5 L775.0,345.6 L775.7,337.0 L776.4,328.0 L777.1,318.6 L777.7,309.2 L778.4,299.8 L779.1,290.8 L779.8,282.2 L780.4,274.3 L781.1,267.2 L781.8,261.2 L782.5,256.5 L783.1,253.2 L783.8,251.5 L784.5,254.3 L785.2,260.0 L785.9,268.2 L786.6,278.5 L787.3,290.3 L788.0,303.3 L788.7,316.9 L789.3,330.8 L790.0,344.4 L790.7,357.4 L791.4,369.2 L792.1,379.5 L792.8,387.7 L793.5,393.4 L794.2,396.2 L794.9,394.4 L795.6,390.8 L796.3,385.6 L797.0,379.0 L797.7,371.3 L798.4,362.6 L799.1,353.2 L799.8,343.3 L800.5,333.1 L801.1,322.7 L801.8,312.5 L802.5,302.6 L803.2,293.2 L803.9,284.5 L804.6,276.8 L805.3,270.2 L806.0,265.0 L806.7,261.4 L807.4,259.6 L808.1,263.3 L808.8,270.9 L809.4,281.8 L810.1,295.4 L810.8,311.0 L811.5,327.9 L812.1,345.4 L812.8,362.9 L813.5,379.8 L814.2,395.4 L814.9,409.0 L815.5,419.9 L816.2,427.5 L816.9,431.2 L817.6,429.3 L818.2,425.5 L818.9,420.0 L819.6,413.1 L820.2,405.0 L820.9,395.8 L821.6,385.8 L822.2,375.2 L822.9,364.2 L823.5,352.9 L824.2,341.7 L824.9,330.7 L825.5,320.1 L826.2,310.1 L826.9,300.9 L827.5,292.8 L828.2,285.9 L828.9,280.4 L829.5,276.6 L830.2,274.7 L830.9,277.7 L831.6,284.0 L832.3,293.0 L833.0,304.2 L833.7,317.0 L834.4,330.9 L835.0,345.4 L835.7,359.9 L836.4,373.8 L837.1,386.6 L837.8,397.8 L838.5,406.8 L839.2,413.1 L839.9,416.1 L840.6,414.0 L841.3,409.8 L842.0,403.7 L842.7,396.1 L843.4,387.2 L844.1,377.4 L844.8,367.1 L845.5,356.4 L846.1,345.6 L846.8,335.3 L847.5,325.5 L848.2,316.6 L848.9,309.0 L849.6,302.9 L850.3,298.7 L851.0,296.6 L851.7,297.7 L852.4,299.9 L853.1,303.1 L853.8,307.1 L854.5,311.8 L855.2,317.1 L855.9,322.9 L856.6,329.1 L857.3,335.5 L858.0,342.0 L858.6,348.5 L859.3,354.9 L860.0,361.1 L860.7,366.9 L861.4,372.2 L862.1,376.9 L862.8,380.9 L863.5,384.1 L864.2,386.3 L864.9,387.4 L865.6,385.9 L866.3,382.8 L866.9,378.4 L867.6,372.9 L868.3,366.5 L869.0,359.3 L869.6,351.6 L870.3,343.6 L871.0,335.5 L871.7,327.5 L872.3,319.8 L873.0,312.6 L873.7,306.2 L874.4,300.7 L875.0,296.3 L875.7,293.2 L876.4,291.7 L877.1,293.7 L877.8,297.5 L878.4,303.1 L879.1,310.2 L879.8,318.5 L880.5,327.7 L881.1,337.7 L881.8,348.2 L882.5,358.9 L883.2,369.6 L883.9,380.1 L884.5,390.1 L885.2,399.3 L885.9,407.6 L886.6,414.7 L887.2,420.3 L887.9,424.1 L888.6,426.1 L889.3,422.2 L890.0,413.9 L890.7,402.1 L891.4,387.7 L892.1,371.5 L892.8,354.5 L893.5,337.5 L894.2,321.3 L894.9,306.9 L895.6,295.1 L896.3,286.8 L897.0,282.9 L897.7,285.2 L898.4,290.0 L899.1,296.8 L899.8,305.4 L900.4,315.3 L901.1,326.3 L901.8,338.0 L902.5,350.0 L903.2,362.1 L903.9,373.8 L904.6,384.8 L905.2,394.7 L905.9,403.3 L906.6,410.1 L907.3,414.9 L908.0,417.2 L908.7,415.3 L909.4,411.6 L910.1,406.1 L910.8,399.3 L911.5,391.4 L912.2,382.7 L912.9,373.4 L913.5,363.9 L914.2,354.3 L914.9,345.0 L915.6,336.3 L916.3,328.4 L917.0,321.6 L917.7,316.1 L918.4,312.4 L919.1,310.5 L919.8,311.8 L920.5,314.7 L921.1,318.7 L921.8,323.6 L922.5,329.0 L923.2,334.5 L923.9,339.9 L924.6,344.8 L925.2,348.8 L925.9,351.7 L926.6,353.0 L927.2,352.6 L927.8,351.8 L928.3,351.1 L928.9,350.7 L929.5,351.2 L930.2,352.3 L930.8,353.7 L931.5,355.5 L932.1,357.4 L932.7,359.4 L933.4,361.3 L934.0,363.0" fill="none" stroke="#08ee08" stroke-width="1.15" stroke-linejoin="round"/>
<path d="M172.2,640.0 L172.8,570.9 L173.4,501.9 L174.0,430.0 L174.5,356.9 L175.0,300.0 L175.6,268.0 L176.2,244.2 L176.9,227.1 L177.5,215.0 L178.2,204.0 L178.9,194.1 L179.6,185.7 L180.3,179.1 L181.0,174.6 L181.7,172.4 L182.4,174.9 L183.1,179.5 L183.8,186.2 L184.4,194.6 L185.1,204.7 L185.8,216.1 L186.5,228.8 L187.2,242.4 L187.9,256.8 L188.6,271.8 L189.3,287.3 L189.9,302.9 L190.6,318.5 L191.3,334.0 L192.0,349.0 L192.7,363.4 L193.4,377.0 L194.1,389.7 L194.8,401.1 L195.4,411.2 L196.1,419.6 L196.8,426.3 L197.5,430.9 L198.2,433.4 L198.9,429.4 L199.6,421.4 L200.3,409.9 L201.0,395.5 L201.7,378.6 L202.4,359.9 L203.1,339.8 L203.8,318.8 L204.4,297.7 L205.1,276.7 L205.8,256.6 L206.5,237.9 L207.2,221.0 L207.9,206.6 L208.6,195.1 L209.3,187.1 L210.0,183.1 L210.7,185.9 L211.4,191.4 L212.0,199.2 L212.7,209.1 L213.4,220.9 L214.1,234.2 L214.8,248.7 L215.4,264.2 L216.1,280.4 L216.8,297.0 L217.5,313.8 L218.2,330.4 L218.9,346.6 L219.5,362.1 L220.2,376.6 L220.9,389.9 L221.6,401.7 L222.3,411.6 L222.9,419.4 L223.6,424.9 L224.3,427.7 L225.0,424.8 L225.7,419.1 L226.3,411.0 L227.0,400.7 L227.7,388.5 L228.4,374.8 L229.0,359.9 L229.7,344.1 L230.4,327.6 L231.1,310.8 L231.7,294.0 L232.4,277.5 L233.1,261.7 L233.8,246.8 L234.4,233.1 L235.1,220.9 L235.8,210.6 L236.5,202.5 L237.1,196.8 L237.8,193.9 L238.5,197.2 L239.2,203.6 L239.9,212.9 L240.6,224.5 L241.3,238.3 L242.0,253.7 L242.7,270.5 L243.4,288.2 L244.1,306.4 L244.7,324.9 L245.4,343.1 L246.1,360.8 L246.8,377.6 L247.5,393.0 L248.2,406.8 L248.9,418.4 L249.6,427.7 L250.3,434.1 L251.0,437.4 L251.7,433.9 L252.4,427.1 L253.1,417.3 L253.8,405.0 L254.5,390.4 L255.2,373.9 L255.9,356.0 L256.6,337.0 L257.3,317.2 L257.9,297.1 L258.6,276.9 L259.3,257.1 L260.0,238.1 L260.7,220.2 L261.4,203.7 L262.1,189.1 L262.8,176.8 L263.5,167.0 L264.2,160.2 L264.9,156.7 L265.6,159.6 L266.3,165.2 L267.0,173.2 L267.6,183.4 L268.3,195.5 L269.0,209.2 L269.7,224.2 L270.4,240.3 L271.1,257.2 L271.8,274.6 L272.4,292.3 L273.1,310.1 L273.8,327.5 L274.5,344.4 L275.2,360.5 L275.9,375.5 L276.6,389.2 L277.3,401.3 L277.9,411.5 L278.6,419.5 L279.3,425.1 L280.0,428.0 L280.7,424.6 L281.4,417.9 L282.0,408.3 L282.7,396.2 L283.4,381.8 L284.1,365.7 L284.8,348.1 L285.4,329.4 L286.1,309.9 L286.8,290.1 L287.5,270.4 L288.2,250.9 L288.8,232.2 L289.5,214.6 L290.2,198.5 L290.9,184.1 L291.6,172.0 L292.2,162.4 L292.9,155.7 L293.6,152.3 L294.3,155.9 L294.9,163.1 L295.6,173.5 L296.3,186.5 L296.9,201.9 L297.6,219.1 L298.3,237.9 L298.9,257.6 L299.6,278.0 L300.3,298.6 L301.0,319.0 L301.6,338.7 L302.3,357.5 L303.0,374.7 L303.6,390.1 L304.3,403.1 L305.0,413.5 L305.6,420.7 L306.3,424.3 L307.0,421.8 L307.7,417.0 L308.4,410.2 L309.1,401.6 L309.8,391.3 L310.4,379.6 L311.1,366.8 L311.8,353.0 L312.5,338.4 L313.2,323.3 L313.9,307.8 L314.6,292.3 L315.3,276.8 L316.0,261.7 L316.7,247.1 L317.4,233.3 L318.1,220.5 L318.7,208.8 L319.4,198.5 L320.1,189.9 L320.8,183.1 L321.5,178.3 L322.2,175.8 L322.9,180.5 L323.6,190.1 L324.3,203.8 L325.0,221.1 L325.7,241.1 L326.4,263.2 L327.1,286.7 L327.8,310.9 L328.5,335.1 L329.2,358.6 L329.9,380.7 L330.6,400.7 L331.3,418.0 L332.0,431.7 L332.7,441.3 L333.4,446.0 L334.1,443.7 L334.7,439.2 L335.4,432.8 L336.1,424.7 L336.8,415.0 L337.4,404.1 L338.1,392.0 L338.8,379.0 L339.5,365.3 L340.1,351.1 L340.8,336.6 L341.5,322.0 L342.2,307.5 L342.8,293.3 L343.5,279.6 L344.2,266.6 L344.9,254.5 L345.5,243.6 L346.2,233.9 L346.9,225.8 L347.6,219.4 L348.2,214.9 L348.9,212.6 L349.6,216.4 L350.3,224.1 L351.0,235.1 L351.7,249.0 L352.3,265.2 L353.0,283.2 L353.7,302.5 L354.4,322.6 L355.1,342.9 L355.8,363.0 L356.5,382.3 L357.2,400.3 L357.8,416.5 L358.5,430.4 L359.2,441.4 L359.9,449.1 L360.6,452.9 L361.3,450.1 L362.0,444.8 L362.7,437.1 L363.4,427.3 L364.1,415.8 L364.7,402.7 L365.4,388.4 L366.1,373.2 L366.8,357.3 L367.5,340.9 L368.2,324.5 L368.9,308.1 L369.6,292.2 L370.3,277.0 L371.0,262.7 L371.6,249.6 L372.3,238.1 L373.0,228.3 L373.7,220.6 L374.4,215.3 L375.1,212.5 L375.8,215.1 L376.5,220.3 L377.2,227.7 L377.8,237.1 L378.5,248.2 L379.2,260.6 L379.9,274.2 L380.6,288.7 L381.3,303.7 L382.0,319.0 L382.6,334.2 L383.3,349.2 L384.0,363.7 L384.7,377.3 L385.4,389.7 L386.1,400.8 L386.7,410.2 L387.4,417.6 L388.1,422.8 L388.8,425.4 L389.5,423.0 L390.1,418.2 L390.8,411.4 L391.5,402.7 L392.2,392.5 L392.8,381.1 L393.5,368.7 L394.2,355.6 L394.9,342.0 L395.5,328.4 L396.2,314.8 L396.9,301.7 L397.6,289.3 L398.2,277.9 L398.9,267.7 L399.6,259.0 L400.3,252.2 L400.9,247.4 L401.6,245.0 L402.3,247.3 L403.0,251.8 L403.7,258.3 L404.4,266.4 L405.0,276.1 L405.7,286.8 L406.4,298.6 L407.1,310.9 L407.8,323.7 L408.5,336.6 L409.2,349.4 L409.9,361.7 L410.6,373.5 L411.3,384.2 L411.9,393.9 L412.6,402.0 L413.3,408.5 L414.0,413.0 L414.7,415.3 L415.4,413.1 L416.0,408.7 L416.7,402.3 L417.4,394.4 L418.1,385.0 L418.7,374.5 L419.4,363.2 L420.1,351.4 L420.8,339.2 L421.4,327.1 L422.1,315.3 L422.8,304.0 L423.4,293.5 L424.1,284.1 L424.8,276.2 L425.5,269.8 L426.1,265.4 L426.8,263.2 L427.5,265.1 L428.2,268.9 L428.8,274.4 L429.5,281.3 L430.2,289.3 L430.9,298.3 L431.6,308.0 L432.3,318.0 L432.9,328.3 L433.6,338.5 L434.3,348.5 L435.0,357.8 L435.7,366.4 L436.4,374.0 L437.0,380.3 L437.7,385.0 L438.4,388.0 L439.1,389.9 L439.7,391.7 L440.4,393.3 L441.1,394.5 L441.7,395.4 L442.4,395.8 L443.1,393.6 L443.8,389.3 L444.4,383.0 L445.1,375.1 L445.8,365.9 L446.5,355.6 L447.1,344.7 L447.8,333.2 L448.5,321.7 L449.2,310.2 L449.8,299.3 L450.5,289.0 L451.2,279.8 L451.9,271.9 L452.5,265.6 L453.2,261.3 L453.9,259.1 L454.6,262.3 L455.2,268.8 L455.9,278.2 L456.5,289.9 L457.2,303.6 L457.9,318.6 L458.5,334.6 L459.2,351.1 L459.9,367.6 L460.5,383.6 L461.2,398.6 L461.9,412.3 L462.5,424.0 L463.2,433.4 L463.8,439.9 L464.5,443.1 L465.2,439.3 L465.9,431.4 L466.5,420.0 L467.2,406.2 L467.9,390.6 L468.6,374.2 L469.2,357.9 L469.9,342.3 L470.6,328.5 L471.2,317.1 L471.9,309.2 L472.6,305.4 L473.3,307.0 L474.0,310.4 L474.6,315.1 L475.3,320.4 L476.0,325.8 L476.6,330.5 L477.3,333.9 L478.0,335.5 L478.7,334.4 L479.3,332.0 L480.0,329.0 L480.7,326.0 L481.3,323.6 L482.0,322.5 L482.7,324.9 L483.3,329.9 L484.0,337.0 L484.7,345.9 L485.4,356.2 L486.0,367.4 L486.7,379.3 L487.4,391.3 L488.1,403.2 L488.7,414.4 L489.4,424.7 L490.1,433.6 L490.8,440.7 L491.4,445.7 L492.1,448.1 L492.8,443.8 L493.4,434.7 L494.1,421.7 L494.8,405.8 L495.4,388.0 L496.1,369.2 L496.8,350.4 L497.4,332.6 L498.1,316.7 L498.8,303.7 L499.4,294.6 L500.1,290.3 L500.8,291.8 L501.4,294.7 L502.1,299.0 L502.8,304.3 L503.4,310.5 L504.1,317.4 L504.8,324.7 L505.5,332.2 L506.1,339.6 L506.8,346.9 L507.5,353.8 L508.1,360.0 L508.8,365.3 L509.5,369.6 L510.1,372.5 L510.8,374.0 L511.4,373.1 L512.0,371.1 L512.6,368.9 L513.2,366.9 L513.8,366.0 L514.4,369.3 L515.0,376.5 L515.6,385.7 L516.2,394.8 L516.8,402.0 L517.4,405.3 L518.1,403.1 L518.7,398.7 L519.4,392.3 L520.0,384.4 L520.7,375.1 L521.3,364.9 L522.0,354.0 L522.6,342.8 L523.3,331.6 L524.0,320.7 L524.6,310.5 L525.3,301.2 L525.9,293.3 L526.6,286.9 L527.2,282.5 L527.9,280.3 L528.6,283.5 L529.3,290.3 L530.0,299.9 L530.6,311.8 L531.3,325.5 L532.0,340.4 L532.7,355.8 L533.4,371.3 L534.1,386.2 L534.8,399.9 L535.4,411.8 L536.1,421.4 L536.8,428.2 L537.5,431.4 L538.2,429.7 L538.9,426.5 L539.5,421.8 L540.2,415.9 L540.9,409.0 L541.5,401.2 L542.2,392.6 L542.9,383.5 L543.6,374.1 L544.2,364.5 L544.9,354.9 L545.6,345.5 L546.3,336.4 L547.0,327.8 L547.6,320.0 L548.3,313.1 L549.0,307.2 L549.6,302.5 L550.3,299.3 L551.0,297.6 L551.7,299.1 L552.4,302.1 L553.1,306.3 L553.8,311.7 L554.4,318.0 L555.1,325.1 L555.8,332.8 L556.5,340.9 L557.2,349.3 L557.9,357.8 L558.6,366.2 L559.3,374.3 L560.0,382.0 L560.7,389.1 L561.3,395.4 L562.0,400.8 L562.7,405.0 L563.4,408.0 L564.1,409.5 L564.8,407.0 L565.4,401.9 L566.1,394.6 L566.8,385.5 L567.4,375.1 L568.1,363.8 L568.8,352.0 L569.4,340.2 L570.1,328.9 L570.7,318.5 L571.4,309.4 L572.1,302.1 L572.7,297.0 L573.4,294.5 L574.1,297.2 L574.8,302.8 L575.4,309.5 L576.1,315.5 L576.8,319.0 L577.4,320.2 L578.1,321.1 L578.7,321.8 L579.4,322.6 L580.0,323.5 L580.6,324.5 L581.2,325.7 L581.9,327.1 L582.5,329.0 L583.1,332.7 L583.7,338.4 L584.3,345.0 L584.9,353.3 L585.5,364.2 L586.1,376.6 L586.8,389.3 L587.4,401.4 L588.0,411.7 L588.6,419.1 L589.2,422.6 L589.9,419.7 L590.5,413.7 L591.2,405.1 L591.9,394.3 L592.6,381.9 L593.2,368.3 L593.9,354.0 L594.6,339.5 L595.3,325.2 L595.9,311.6 L596.6,299.2 L597.3,288.4 L598.0,279.8 L598.6,273.8 L599.3,270.9 L600.0,274.0 L600.7,280.5 L601.4,289.8 L602.1,301.2 L602.8,314.0 L603.5,327.4 L604.1,340.9 L604.8,353.7 L605.5,365.1 L606.2,374.4 L606.9,380.9 L607.6,384.0 L608.2,382.7 L608.8,379.9 L609.5,376.2 L610.1,372.3 L610.7,368.9 L611.3,366.6 L612.0,365.1 L612.7,363.8 L613.4,362.7 L614.0,361.8 L614.7,360.8 L615.4,359.8 L616.1,358.6 L616.7,357.4 L617.4,356.3 L618.0,355.0 L618.7,353.4 L619.3,351.4 L619.8,348.6 L620.4,344.4 L621.0,339.7 L621.5,335.0 L622.2,328.7 L622.9,321.4 L623.6,313.5 L624.3,305.4 L625.0,297.7 L625.7,290.7 L626.4,284.9 L627.1,280.9 L627.8,278.9 L628.4,283.1 L629.1,291.9 L629.7,304.5 L630.4,319.9 L631.0,337.1 L631.6,355.3 L632.3,373.5 L632.9,390.7 L633.6,406.1 L634.2,418.7 L634.9,427.5 L635.5,431.7 L636.2,429.1 L636.8,423.6 L637.5,415.9 L638.1,406.4 L638.8,395.6 L639.5,384.3 L640.1,372.9 L640.8,361.9 L641.4,352.0 L642.1,343.7 L642.7,337.5 L643.4,334.0 L644.0,332.2 L644.7,330.6 L645.3,329.3 L646.0,328.4 L646.6,328.0 L647.3,329.1 L647.9,331.5 L648.6,334.5 L649.3,337.5 L649.9,339.9 L650.6,341.0 L651.3,339.4 L651.9,335.9 L652.6,331.4 L653.2,326.4 L653.9,321.9 L654.5,318.4 L655.2,316.8 L655.9,319.3 L656.5,324.5 L657.2,332.0 L657.9,341.3 L658.6,352.0 L659.2,363.5 L659.9,375.6 L660.6,387.6 L661.2,399.1 L661.9,409.8 L662.6,419.1 L663.3,426.6 L663.9,431.8 L664.6,434.3 L665.3,431.2 L665.9,424.7 L666.6,415.4 L667.3,403.8 L667.9,390.4 L668.6,375.7 L669.3,360.3 L669.9,344.5 L670.6,329.1 L671.3,314.4 L671.9,301.0 L672.6,289.4 L673.3,280.1 L673.9,273.6 L674.6,270.5 L675.3,273.6 L676.0,280.1 L676.6,289.3 L677.3,300.7 L678.0,313.4 L678.7,326.8 L679.3,340.1 L680.0,352.8 L680.7,364.2 L681.4,373.4 L682.0,379.9 L682.7,383.0 L683.4,380.5 L684.0,375.2 L684.7,368.5 L685.4,361.8 L686.0,356.5 L686.7,354.0 L687.3,355.0 L688.0,357.2 L688.6,360.1 L689.2,363.5 L689.9,366.9 L690.5,369.8 L691.2,372.0 L691.8,373.0 L692.5,370.8 L693.1,366.2 L693.8,359.7 L694.5,351.7 L695.1,342.7 L695.8,333.3 L696.5,323.9 L697.1,314.9 L697.8,306.9 L698.5,300.4 L699.1,295.8 L699.8,293.6 L700.5,295.2 L701.2,298.3 L701.9,302.8 L702.6,308.4 L703.2,315.0 L703.9,322.4 L704.6,330.4 L705.3,338.8 L706.0,347.4 L706.7,355.9 L707.4,364.3 L708.1,372.3 L708.8,379.7 L709.4,386.3 L710.1,391.9 L710.8,396.4 L711.5,399.5 L712.2,401.1 L712.9,399.6 L713.6,396.8 L714.3,392.8 L715.0,387.6 L715.7,381.6 L716.4,374.7 L717.1,367.1 L717.8,359.0 L718.5,350.5 L719.2,341.7 L719.9,332.8 L720.5,323.8 L721.2,315.0 L721.9,306.5 L722.6,298.4 L723.3,290.8 L724.0,283.9 L724.7,277.9 L725.4,272.7 L726.1,268.7 L726.8,265.9 L727.5,264.4 L728.2,266.5 L728.8,270.7 L729.5,276.8 L730.2,284.5 L730.8,293.4 L731.5,303.4 L732.2,314.3 L732.8,325.6 L733.5,337.2 L734.2,348.8 L734.8,360.1 L735.5,371.0 L736.2,381.0 L736.8,389.9 L737.5,397.6 L738.2,403.7 L738.8,407.9 L739.5,410.0 L740.2,408.1 L740.9,404.4 L741.5,399.1 L742.2,392.4 L742.9,384.5 L743.6,375.5 L744.2,365.7 L744.9,355.2 L745.6,344.3 L746.3,333.1 L746.9,321.7 L747.6,310.5 L748.3,299.6 L749.0,289.1 L749.6,279.3 L750.3,270.3 L751.0,262.4 L751.7,255.7 L752.3,250.4 L753.0,246.7 L753.7,244.8 L754.4,247.6 L755.0,253.4 L755.7,261.8 L756.4,272.2 L757.0,284.3 L757.7,297.7 L758.3,311.9 L759.0,326.6 L759.7,341.3 L760.3,355.5 L761.0,368.9 L761.6,381.0 L762.3,391.4 L763.0,399.8 L763.6,405.6 L764.3,408.4 L765.0,406.9 L765.7,403.8 L766.4,399.5 L767.0,394.0 L767.7,387.6 L768.4,380.3 L769.1,372.3 L769.8,363.9 L770.5,355.1 L771.1,346.2 L771.8,337.3 L772.5,328.5 L773.2,320.1 L773.9,312.1 L774.6,304.8 L775.3,298.4 L775.9,292.9 L776.6,288.6 L777.3,285.5 L778.0,284.0 L778.7,285.6 L779.4,288.9 L780.1,293.6 L780.8,299.5 L781.5,306.5 L782.2,314.3 L782.9,322.8 L783.6,331.7 L784.3,341.0 L785.0,350.3 L785.7,359.6 L786.4,368.5 L787.1,377.0 L787.8,384.8 L788.5,391.8 L789.2,397.7 L789.9,402.4 L790.6,405.7 L791.3,407.3 L792.0,405.4 L792.6,401.6 L793.3,396.2 L794.0,389.4 L794.6,381.4 L795.3,372.5 L796.0,363.0 L796.6,353.1 L797.3,343.0 L797.9,333.1 L798.6,323.6 L799.3,314.7 L799.9,306.7 L800.6,299.9 L801.3,294.5 L801.9,290.7 L802.6,288.8 L803.3,290.0 L803.9,292.5 L804.6,296.0 L805.3,300.5 L805.9,305.8 L806.6,311.7 L807.2,318.1 L807.9,324.8 L808.6,331.8 L809.2,338.9 L809.9,345.9 L810.6,352.6 L811.2,359.0 L811.9,364.9 L812.5,370.2 L813.2,374.7 L813.9,378.2 L814.5,380.7 L815.2,381.9 L815.9,381.1 L816.6,379.5 L817.2,377.2 L817.9,374.3 L818.6,370.8 L819.3,366.9 L820.0,362.6 L820.6,358.1 L821.3,353.3 L822.0,348.5 L822.7,343.5 L823.4,338.7 L824.1,333.9 L824.7,329.4 L825.4,325.1 L826.1,321.2 L826.8,317.7 L827.5,314.8 L828.1,312.5 L828.8,310.9 L829.5,310.1 L830.2,311.6 L830.9,314.6 L831.6,318.9 L832.3,324.3 L833.0,330.7 L833.7,337.7 L834.4,345.2 L835.1,353.1 L835.7,361.0 L836.4,368.9 L837.1,376.4 L837.8,383.4 L838.5,389.8 L839.2,395.2 L839.9,399.5 L840.6,402.5 L841.3,404.0 L842.0,402.2 L842.6,398.5 L843.3,393.1 L844.0,386.6 L844.6,379.1 L845.3,371.1 L846.0,362.9 L846.7,354.9 L847.3,347.4 L848.0,340.9 L848.7,335.5 L849.3,331.8 L850.0,330.0 L850.6,330.7 L851.3,332.3 L852.0,334.4 L852.6,336.4 L853.2,338.0 L853.9,338.7 L854.6,338.1 L855.3,336.9 L856.0,335.3 L856.6,333.5 L857.3,331.6 L858.0,330.0 L858.7,328.8 L859.4,328.2 L860.1,330.4 L860.8,335.0 L861.5,341.6 L862.2,349.7 L862.9,358.8 L863.6,368.3 L864.3,377.8 L865.0,386.9 L865.7,395.0 L866.4,401.6 L867.1,406.2 L867.8,408.4 L868.5,406.1 L869.2,401.3 L869.8,394.4 L870.5,385.9 L871.2,376.2 L871.9,365.8 L872.5,355.3 L873.2,344.9 L873.9,335.2 L874.6,326.7 L875.2,319.8 L875.9,315.0 L876.6,312.7 L877.3,314.9 L878.0,319.6 L878.6,326.3 L879.3,334.5 L880.0,343.7 L880.7,353.4 L881.4,363.0 L882.1,372.2 L882.8,380.4 L883.4,387.1 L884.1,391.8 L884.8,394.0 L885.5,392.0 L886.2,387.8 L886.9,381.9 L887.6,375.0 L888.2,367.7 L888.9,360.8 L889.6,354.9 L890.3,350.7 L891.0,348.7 L891.7,350.0 L892.4,352.9 L893.1,356.6 L893.8,360.7 L894.5,364.4 L895.2,367.3 L895.9,368.6 L896.6,367.5 L897.3,365.3 L897.9,362.2 L898.6,358.3 L899.3,353.9 L900.0,349.2 L900.6,344.3 L901.3,339.6 L902.0,335.2 L902.7,331.3 L903.3,328.2 L904.0,326.0 L904.7,324.9 L905.4,327.2 L906.0,332.2 L906.7,339.3 L907.3,347.7 L908.0,356.7 L908.7,365.7 L909.3,374.1 L910.0,381.2 L910.6,386.2 L911.3,388.5 L911.9,386.2 L912.5,381.3 L913.2,374.4 L913.8,366.4 L914.4,358.1 L915.0,350.1 L915.7,343.2 L916.3,338.3 L916.9,336.0 L917.6,338.0 L918.2,342.4 L918.9,348.6 L919.5,356.0 L920.2,363.9 L920.9,371.8 L921.5,379.2 L922.2,385.4 L922.8,389.8 L923.5,391.8 L924.2,390.1 L924.9,386.6 L925.6,381.5 L926.3,375.3 L927.0,368.4 L927.7,361.1 L928.4,353.8 L929.1,346.9 L929.8,340.7 L930.5,335.6 L931.2,332.1 L931.9,330.4 L932.6,333.9 L933.2,341.5 L933.9,352.0 L934.5,364.6 L935.2,378.2 L935.9,391.9 L936.5,404.5 L937.2,415.0 L937.8,422.6 L938.5,426.1 L939.2,424.1 L939.8,420.1 L940.5,414.2 L941.2,406.9 L941.8,398.5 L942.5,389.3 L943.2,379.6 L943.8,369.8 L944.5,360.1 L945.2,350.9 L945.8,342.5 L946.5,335.2 L947.2,329.3 L947.8,325.3 L948.5,323.3 L949.2,324.2 L949.8,326.2 L950.5,328.9 L951.2,332.3 L951.8,336.0 L952.5,340.0 L953.2,343.9 L953.8,347.7 L954.5,351.0" fill="none" stroke="#1818ff" stroke-width="1.15" stroke-linejoin="round"/>
<path d="M172.3,640.0 L173.0,572.8 L173.6,505.7 L174.3,430.0 L174.8,359.2 L175.2,300.0 L175.8,263.5 L176.3,236.1 L176.9,215.6 L177.5,200.0 L178.2,184.6 L178.8,170.4 L179.5,157.6 L180.1,146.7 L180.8,138.0 L181.4,132.1 L182.1,129.2 L182.8,131.7 L183.5,136.4 L184.2,143.2 L184.9,151.8 L185.6,162.0 L186.3,173.6 L187.0,186.3 L187.7,200.1 L188.4,214.6 L189.1,229.6 L189.8,244.9 L190.5,260.4 L191.2,275.7 L191.9,290.7 L192.6,305.2 L193.3,319.0 L194.0,331.7 L194.7,343.3 L195.4,353.5 L196.1,362.1 L196.8,368.9 L197.5,373.6 L198.2,376.1 L198.9,372.7 L199.5,366.0 L200.2,356.3 L200.9,344.1 L201.5,329.7 L202.2,313.6 L202.8,296.1 L203.5,277.6 L204.2,258.5 L204.8,239.2 L205.5,220.1 L206.2,201.6 L206.8,184.1 L207.5,168.0 L208.1,153.6 L208.8,141.4 L209.5,131.7 L210.1,125.0 L210.8,121.6 L211.5,124.6 L212.1,130.4 L212.8,138.6 L213.5,149.1 L214.2,161.5 L214.8,175.6 L215.5,190.9 L216.2,207.3 L216.8,224.4 L217.5,242.0 L218.2,259.7 L218.9,277.3 L219.5,294.4 L220.2,310.8 L220.9,326.1 L221.5,340.2 L222.2,352.6 L222.9,363.1 L223.6,371.3 L224.2,377.1 L224.9,380.1 L225.6,376.9 L226.2,370.5 L226.9,361.4 L227.6,349.9 L228.3,336.4 L229.0,321.1 L229.6,304.4 L230.3,286.7 L231.0,268.3 L231.7,249.6 L232.3,230.9 L233.0,212.5 L233.7,194.8 L234.3,178.1 L235.0,162.8 L235.7,149.3 L236.4,137.8 L237.1,128.7 L237.7,122.3 L238.4,119.1 L239.1,123.1 L239.8,131.1 L240.5,142.7 L241.2,157.2 L241.9,174.3 L242.6,193.3 L243.3,213.8 L244.0,235.4 L244.7,257.4 L245.4,279.5 L246.1,301.1 L246.8,321.6 L247.5,340.6 L248.2,357.7 L248.9,372.2 L249.6,383.8 L250.3,391.8 L251.0,395.8 L251.7,393.3 L252.3,388.5 L253.0,381.6 L253.7,372.9 L254.4,362.6 L255.0,350.8 L255.7,337.8 L256.4,323.8 L257.0,308.9 L257.7,293.5 L258.4,277.6 L259.1,261.5 L259.7,245.4 L260.4,229.5 L261.1,214.1 L261.7,199.2 L262.4,185.2 L263.1,172.2 L263.7,160.4 L264.4,150.1 L265.1,141.4 L265.8,134.5 L266.4,129.7 L267.1,127.2 L267.8,131.8 L268.5,141.1 L269.1,154.4 L269.8,171.2 L270.5,190.9 L271.2,212.9 L271.8,236.6 L272.5,261.5 L273.2,287.0 L273.9,312.5 L274.6,337.4 L275.2,361.1 L275.9,383.1 L276.6,402.8 L277.3,419.6 L277.9,432.9 L278.6,442.2 L279.3,446.8 L280.0,442.7 L280.7,434.7 L281.3,423.1 L282.0,408.5 L282.7,391.4 L283.4,372.1 L284.1,351.1 L284.7,329.1 L285.4,306.3 L286.1,283.2 L286.8,260.4 L287.4,238.4 L288.1,217.4 L288.8,198.1 L289.5,181.0 L290.2,166.4 L290.8,154.8 L291.5,146.8 L292.2,142.7 L292.9,145.2 L293.6,150.2 L294.2,157.3 L294.9,166.3 L295.6,176.9 L296.2,188.8 L296.9,201.8 L297.6,215.6 L298.3,230.0 L298.9,244.7 L299.6,259.3 L300.3,273.7 L301.0,287.5 L301.6,300.5 L302.3,312.4 L303.0,323.0 L303.7,332.0 L304.3,339.1 L305.0,344.1 L305.7,346.6 L306.4,345.3 L307.1,342.8 L307.8,339.4 L308.5,334.9 L309.2,329.7 L309.9,323.6 L310.6,317.0 L311.3,309.7 L312.0,302.0 L312.7,293.9 L313.4,285.6 L314.1,277.0 L314.8,268.4 L315.4,259.7 L316.1,251.1 L316.8,242.8 L317.5,234.7 L318.2,227.0 L318.9,219.7 L319.6,213.1 L320.3,207.0 L321.0,201.8 L321.7,197.3 L322.4,193.9 L323.1,191.4 L323.8,190.1 L324.5,192.9 L325.1,198.5 L325.8,206.6 L326.5,216.8 L327.2,228.8 L327.8,242.1 L328.5,256.5 L329.2,271.6 L329.9,287.1 L330.5,302.6 L331.2,317.7 L331.9,332.1 L332.5,345.4 L333.2,357.4 L333.9,367.6 L334.6,375.7 L335.2,381.3 L335.9,384.1 L336.6,380.9 L337.3,374.6 L337.9,365.4 L338.6,353.9 L339.3,340.4 L340.0,325.3 L340.6,309.0 L341.3,291.9 L342.0,274.4 L342.7,257.0 L343.4,239.9 L344.0,223.6 L344.7,208.5 L345.4,195.0 L346.1,183.5 L346.7,174.3 L347.4,168.0 L348.1,164.8 L348.8,167.7 L349.5,173.5 L350.2,181.8 L350.9,192.3 L351.6,204.6 L352.3,218.2 L353.0,232.8 L353.7,248.0 L354.4,263.4 L355.1,278.6 L355.8,293.2 L356.5,306.8 L357.2,319.1 L357.9,329.6 L358.6,337.9 L359.3,343.7 L360.0,346.6 L360.7,344.2 L361.4,339.3 L362.0,332.3 L362.7,323.5 L363.4,313.5 L364.1,302.6 L364.8,291.3 L365.4,280.0 L366.1,269.1 L366.8,259.1 L367.5,250.3 L368.1,243.3 L368.8,238.4 L369.5,236.0 L370.2,236.9 L370.9,238.8 L371.6,241.5 L372.2,244.8 L372.9,248.6 L373.6,252.8 L374.3,257.1 L375.0,261.4 L375.7,265.6 L376.4,269.4 L377.0,272.7 L377.7,275.4 L378.4,277.3 L379.1,278.2 L379.7,277.5 L380.4,275.9 L381.0,273.7 L381.6,271.2 L382.2,268.7 L382.9,266.5 L383.5,264.9 L384.1,264.2 L384.8,265.2 L385.4,267.3 L386.1,270.2 L386.8,273.9 L387.5,278.2 L388.1,283.1 L388.8,288.3 L389.5,293.7 L390.1,299.3 L390.8,305.0 L391.5,310.4 L392.2,315.6 L392.8,320.5 L393.5,324.8 L394.2,328.5 L394.9,331.4 L395.5,333.5 L396.2,334.5 L396.9,331.1 L397.6,323.9 L398.3,313.6 L399.0,301.3 L399.7,287.6 L400.3,273.5 L401.0,259.8 L401.7,247.5 L402.4,237.2 L403.1,230.0 L403.8,226.6 L404.5,228.3 L405.1,231.7 L405.8,236.6 L406.4,242.8 L407.1,249.9 L407.8,257.7 L408.4,265.8 L409.1,274.2 L409.7,282.3 L410.4,290.1 L411.1,297.2 L411.7,303.4 L412.4,308.3 L413.0,311.7 L413.7,313.4 L414.4,311.5 L415.0,307.5 L415.7,301.9 L416.3,294.9 L417.0,286.8 L417.6,278.1 L418.3,269.0 L419.0,259.9 L419.6,251.2 L420.3,243.1 L420.9,236.1 L421.6,230.5 L422.2,226.5 L422.9,224.6 L423.6,225.6 L424.2,227.5 L424.9,230.3 L425.6,233.7 L426.3,237.9 L426.9,242.6 L427.6,247.7 L428.3,253.3 L429.0,259.1 L429.6,265.2 L430.3,271.4 L431.0,277.7 L431.7,283.9 L432.3,290.0 L433.0,295.8 L433.7,301.4 L434.4,306.5 L435.0,311.2 L435.7,315.4 L436.4,318.8 L437.1,321.6 L437.7,323.5 L438.4,324.5 L439.1,322.1 L439.7,317.0 L440.4,309.7 L441.1,301.0 L441.8,291.4 L442.4,281.5 L443.1,272.0 L443.8,263.5 L444.5,256.6 L445.1,252.0 L445.8,250.2 L446.5,250.1 L447.1,250.0 L447.8,249.9 L448.5,249.8 L449.2,249.7 L449.9,249.7 L450.5,249.6 L451.2,249.6 L451.9,251.0 L452.5,253.7 L453.2,257.5 L453.9,262.3 L454.6,268.1 L455.2,274.6 L455.9,281.7 L456.6,289.4 L457.3,297.4 L457.9,305.7 L458.6,314.1 L459.3,322.6 L459.9,330.9 L460.6,338.9 L461.3,346.6 L462.0,353.7 L462.6,360.2 L463.3,366.0 L464.0,370.8 L464.7,374.6 L465.3,377.3 L466.0,378.7 L466.7,374.9 L467.4,367.3 L468.0,356.4 L468.7,342.7 L469.4,326.7 L470.1,308.9 L470.8,289.8 L471.5,270.0 L472.1,249.9 L472.8,230.1 L473.5,211.0 L474.2,193.2 L474.9,177.2 L475.6,163.5 L476.2,152.6 L476.9,145.0 L477.6,141.2 L478.3,143.4 L478.9,147.7 L479.6,154.0 L480.3,161.8 L481.0,170.9 L481.6,180.8 L482.3,191.5 L483.0,202.4 L483.7,213.2 L484.3,223.7 L485.0,233.6 L485.7,242.5 L486.4,250.0 L487.0,256.0 L487.7,260.0 L488.4,262.7 L489.0,264.9 L489.7,266.7 L490.4,268.3 L491.0,269.8 L491.7,271.1 L492.4,272.4 L493.0,273.8 L493.7,275.4 L494.4,277.2 L495.0,279.4 L495.7,282.0 L496.4,285.8 L497.0,291.3 L497.7,298.1 L498.4,305.8 L499.0,314.1 L499.7,322.6 L500.4,331.0 L501.0,338.7 L501.7,345.6 L502.4,351.2 L503.0,355.1 L503.7,357.0 L504.4,355.7 L505.0,353.2 L505.7,349.6 L506.4,345.0 L507.0,339.6 L507.7,333.5 L508.4,326.8 L509.0,319.8 L509.7,312.5 L510.4,305.0 L511.0,297.5 L511.7,290.2 L512.3,283.2 L513.0,276.5 L513.7,270.4 L514.3,265.0 L515.0,260.4 L515.7,256.8 L516.3,254.3 L517.0,253.0 L517.6,255.0 L518.3,259.3 L519.0,265.5 L519.6,273.0 L520.2,281.4 L520.9,290.2 L521.5,299.1 L522.2,307.5 L522.8,315.0 L523.5,321.2 L524.1,325.5 L524.8,327.5 L525.4,326.7 L526.1,325.0 L526.8,322.7 L527.4,319.7 L528.0,316.4 L528.7,312.7 L529.3,308.9 L530.0,305.1 L530.6,301.4 L531.3,298.1 L531.9,295.1 L532.6,292.8 L533.2,291.1 L533.9,290.3 L534.5,291.4 L535.1,293.7 L535.8,296.8 L536.4,300.4 L537.0,303.9 L537.6,307.0 L538.3,309.3 L538.9,310.4 L539.6,309.4 L540.3,307.4 L541.0,304.5 L541.6,300.8 L542.3,296.5 L543.0,291.6 L543.7,286.2 L544.4,280.5 L545.1,274.4 L545.8,268.2 L546.5,261.9 L547.1,255.5 L547.8,249.3 L548.5,243.2 L549.2,237.5 L549.9,232.1 L550.6,227.2 L551.3,222.9 L551.9,219.2 L552.6,216.3 L553.3,214.3 L554.0,213.3 L554.7,216.8 L555.3,224.0 L556.0,234.3 L556.7,247.2 L557.3,262.2 L558.0,278.7 L558.7,296.3 L559.4,314.5 L560.0,332.6 L560.7,350.2 L561.4,366.7 L562.0,381.7 L562.7,394.6 L563.4,404.9 L564.0,412.1 L564.7,415.6 L565.4,413.4 L566.1,408.9 L566.8,402.4 L567.5,394.3 L568.2,384.7 L568.9,374.1 L569.6,362.6 L570.3,350.5 L571.0,338.2 L571.6,325.9 L572.3,313.8 L573.0,302.3 L573.7,291.7 L574.4,282.1 L575.1,274.0 L575.8,267.5 L576.5,263.0 L577.2,260.8 L577.9,261.9 L578.6,264.2 L579.3,267.4 L579.9,271.4 L580.6,276.2 L581.3,281.5 L582.0,287.3 L582.7,293.5 L583.4,299.8 L584.0,306.2 L584.7,312.5 L585.4,318.7 L586.1,324.5 L586.8,329.8 L587.5,334.6 L588.1,338.6 L588.8,341.8 L589.5,344.1 L590.2,345.2 L590.8,343.9 L591.5,341.0 L592.1,337.1 L592.8,332.7 L593.4,328.2 L594.0,324.3 L594.7,321.4 L595.3,320.1 L595.9,321.8 L596.5,325.5 L597.2,330.6 L597.8,336.6 L598.4,342.8 L599.0,348.8 L599.7,353.9 L600.3,357.6 L600.9,359.3 L601.6,356.9 L602.3,351.7 L602.9,344.4 L603.6,335.4 L604.3,325.2 L605.0,314.3 L605.6,303.0 L606.3,292.1 L607.0,281.9 L607.7,272.9 L608.3,265.6 L609.0,260.4 L609.7,258.0 L610.4,259.1 L611.1,261.3 L611.8,264.4 L612.5,268.3 L613.2,272.9 L613.9,278.2 L614.6,283.9 L615.3,290.1 L616.0,296.6 L616.7,303.3 L617.4,310.2 L618.0,317.0 L618.7,323.7 L619.4,330.2 L620.1,336.4 L620.8,342.1 L621.5,347.4 L622.2,352.0 L622.9,355.9 L623.6,359.0 L624.3,361.2 L625.0,362.3 L625.7,361.1 L626.4,358.8 L627.0,355.4 L627.7,351.2 L628.4,346.1 L629.1,340.4 L629.7,334.2 L630.4,327.5 L631.1,320.4 L631.8,313.2 L632.5,305.8 L633.1,298.4 L633.8,291.2 L634.5,284.1 L635.2,277.4 L635.8,271.2 L636.5,265.5 L637.2,260.4 L637.9,256.2 L638.5,252.8 L639.2,250.5 L639.9,249.3 L640.6,252.1 L641.3,257.7 L641.9,265.8 L642.6,276.0 L643.3,287.9 L644.0,301.1 L644.7,315.3 L645.4,330.0 L646.0,344.9 L646.7,359.6 L647.4,373.8 L648.1,387.0 L648.8,398.9 L649.5,409.1 L650.1,417.2 L650.8,422.8 L651.5,425.6 L652.2,423.2 L652.9,418.3 L653.6,411.4 L654.3,402.6 L654.9,392.3 L655.6,380.7 L656.3,368.1 L657.0,354.8 L657.7,341.1 L658.4,327.2 L659.1,313.5 L659.8,300.2 L660.5,287.6 L661.2,276.0 L661.8,265.7 L662.5,256.9 L663.2,250.0 L663.9,245.1 L664.6,242.7 L665.3,244.5 L666.0,248.4 L666.7,253.9 L667.4,260.7 L668.1,268.4 L668.8,276.7 L669.4,285.1 L670.1,293.4 L670.8,301.1 L671.5,307.9 L672.2,313.4 L672.9,317.3 L673.6,319.1 L674.3,318.1 L674.9,316.1 L675.6,313.1 L676.2,309.5 L676.9,305.4 L677.5,301.0 L678.2,296.6 L678.8,292.2 L679.5,288.1 L680.1,284.5 L680.8,281.5 L681.4,279.5 L682.1,278.5 L682.8,280.9 L683.4,286.0 L684.1,293.2 L684.8,302.0 L685.4,312.0 L686.1,322.4 L686.8,332.8 L687.4,342.8 L688.1,351.6 L688.8,358.8 L689.4,363.9 L690.1,366.3 L690.8,364.3 L691.5,360.3 L692.2,354.5 L692.8,347.3 L693.5,339.0 L694.2,329.8 L694.9,320.2 L695.6,310.5 L696.3,300.9 L697.0,291.7 L697.7,283.4 L698.3,276.2 L699.0,270.4 L699.7,266.4 L700.4,264.4 L701.1,265.9 L701.8,268.9 L702.5,273.3 L703.2,278.7 L703.8,285.1 L704.5,292.3 L705.2,300.0 L705.9,308.1 L706.6,316.4 L707.3,324.6 L708.0,332.7 L708.7,340.4 L709.4,347.6 L710.0,354.0 L710.7,359.4 L711.4,363.8 L712.1,366.8 L712.8,368.3 L713.5,366.7 L714.2,363.3 L714.9,358.6 L715.6,352.6 L716.3,345.6 L717.0,338.0 L717.7,329.8 L718.3,321.4 L719.0,313.0 L719.7,304.8 L720.4,297.2 L721.1,290.2 L721.8,284.2 L722.5,279.5 L723.2,276.1 L723.9,274.5 L724.6,274.5 L725.2,274.6 L725.9,274.7 L726.6,274.7 L727.3,274.9 L727.9,275.0 L728.6,275.1 L729.3,275.3 L730.0,275.5 L730.6,275.7 L731.3,275.9 L732.0,276.2 L732.7,276.4 L733.3,276.7 L734.0,277.0 L734.7,277.8 L735.4,279.7 L736.1,282.5 L736.8,286.0 L737.5,290.3 L738.1,295.2 L738.8,300.7 L739.5,306.6 L740.2,312.8 L740.9,319.3 L741.6,326.0 L742.3,332.6 L743.0,339.3 L743.7,345.8 L744.4,352.1 L745.1,358.1 L745.8,363.7 L746.4,368.7 L747.1,373.2 L747.8,376.9 L748.5,379.9 L749.2,381.9 L749.9,383.0 L750.6,380.8 L751.2,376.1 L751.9,369.5 L752.6,361.3 L753.2,351.7 L753.9,341.2 L754.6,330.2 L755.2,319.1 L755.9,308.1 L756.6,297.6 L757.2,288.0 L757.9,279.8 L758.6,273.2 L759.2,268.5 L759.9,266.3 L760.5,268.2 L761.2,272.3 L761.8,278.0 L762.5,284.9 L763.1,292.8 L763.8,301.1 L764.4,309.4 L765.1,317.3 L765.7,324.5 L766.4,330.4 L767.0,334.7 L767.7,338.3 L768.4,341.9 L769.1,345.3 L769.8,348.6 L770.5,351.6 L771.2,354.5 L771.9,357.0 L772.6,359.3 L773.3,361.1 L774.0,362.6 L774.7,363.7 L775.4,364.2 L776.1,362.8 L776.7,360.0 L777.4,356.0 L778.1,350.9 L778.8,344.9 L779.4,338.2 L780.1,331.0 L780.8,323.3 L781.5,315.4 L782.1,307.3 L782.8,299.4 L783.5,291.7 L784.2,284.5 L784.8,277.8 L785.5,271.8 L786.2,266.7 L786.9,262.7 L787.5,259.9 L788.2,258.5 L788.9,258.9 L789.6,259.7 L790.3,260.9 L790.9,262.4 L791.6,264.0 L792.3,265.7 L793.0,267.4 L793.6,269.3 L794.3,271.7 L795.0,274.4 L795.6,277.5 L796.2,280.7 L796.9,283.9 L797.5,287.0 L798.2,289.8 L798.8,292.3 L799.5,294.4 L800.1,295.8 L800.8,296.5 L801.4,296.0 L802.1,295.0 L802.7,293.7 L803.3,292.3 L803.9,291.0 L804.6,290.0 L805.2,289.5 L805.9,290.8 L806.6,293.6 L807.3,297.5 L808.0,302.4 L808.6,308.1 L809.3,314.5 L810.0,321.3 L810.7,328.4 L811.4,335.7 L812.1,342.8 L812.8,349.6 L813.5,356.0 L814.1,361.7 L814.8,366.6 L815.5,370.5 L816.2,373.3 L816.9,374.6 L817.6,373.9 L818.3,372.5 L819.0,370.4 L819.6,367.8 L820.3,364.8 L821.0,361.4 L821.7,357.6 L822.4,353.6 L823.1,349.5 L823.8,345.3 L824.4,341.1 L825.1,337.0 L825.8,333.0 L826.5,329.2 L827.2,325.8 L827.9,322.8 L828.5,320.2 L829.2,318.1 L829.9,316.7 L830.6,316.0 L831.3,316.2 L831.9,316.5 L832.6,317.0 L833.2,317.7 L833.9,318.4 L834.5,319.2 L835.2,320.0 L835.8,320.9 L836.5,321.7 L837.1,322.5 L837.8,323.4 L838.5,324.3 L839.1,325.3 L839.8,326.3 L840.4,327.6 L841.1,328.9 L841.7,330.4 L842.2,332.4 L842.8,335.1 L843.4,337.5 L843.9,338.7 L844.6,338.0 L845.3,336.4 L846.0,334.2 L846.6,331.8 L847.3,329.4 L848.0,327.2 L848.7,325.6 L849.4,324.9 L850.0,326.1 L850.7,328.7 L851.3,332.2 L852.0,335.9 L852.6,339.4 L853.3,342.0 L853.9,343.2 L854.6,341.9 L855.3,339.4 L856.0,335.9 L856.7,331.3 L857.4,326.0 L858.1,319.9 L858.8,313.2 L859.5,306.1 L860.2,298.6 L860.9,290.8 L861.6,282.9 L862.3,275.1 L863.0,267.3 L863.7,259.8 L864.4,252.7 L865.1,246.0 L865.8,239.9 L866.5,234.6 L867.2,230.0 L867.9,226.5 L868.6,224.0 L869.3,222.7 L870.0,226.1 L870.6,233.2 L871.3,243.4 L872.0,256.1 L872.6,270.7 L873.3,286.8 L874.0,303.7 L874.6,320.8 L875.3,337.7 L876.0,353.8 L876.6,368.4 L877.3,381.1 L878.0,391.3 L878.6,398.4 L879.3,401.8 L879.9,397.8 L880.6,389.2 L881.2,377.0 L881.9,362.1 L882.5,345.4 L883.1,327.8 L883.8,310.1 L884.4,293.4 L885.1,278.5 L885.7,266.3 L886.4,257.7 L887.0,253.7 L887.7,256.2 L888.4,261.4 L889.1,268.8 L889.7,277.9 L890.4,288.3 L891.1,299.4 L891.8,310.7 L892.5,321.8 L893.2,332.2 L893.8,341.3 L894.5,348.7 L895.2,353.9 L895.9,356.4 L896.6,355.3 L897.3,353.1 L898.0,350.0 L898.7,346.1 L899.4,341.5 L900.1,336.3 L900.8,330.7 L901.5,324.8 L902.2,318.6 L902.8,312.5 L903.5,306.3 L904.2,300.4 L904.9,294.8 L905.6,289.6 L906.3,285.0 L907.0,281.1 L907.7,278.0 L908.4,275.8 L909.1,274.7 L909.8,276.6 L910.5,280.7 L911.2,286.5 L911.8,293.7 L912.5,301.8 L913.2,310.5 L913.9,319.5 L914.6,328.2 L915.3,336.3 L915.9,343.5 L916.6,349.3 L917.3,353.4 L918.0,355.3 L918.7,353.6 L919.4,350.0 L920.1,344.9 L920.8,338.7 L921.5,331.8 L922.2,324.4 L922.9,317.0 L923.6,310.1 L924.3,303.9 L925.0,298.8 L925.7,295.2 L926.4,293.5 L927.1,293.9 L927.8,294.5 L928.5,295.5 L929.1,296.7 L929.8,298.1 L930.5,299.8 L931.2,301.5 L931.9,303.4 L932.5,305.4 L933.2,307.5 L933.9,309.5 L934.6,311.6 L935.3,314.2 L935.9,317.6 L936.6,321.0 L937.2,323.7 L937.9,325.0 L938.5,324.1 L939.2,322.0 L939.8,319.2 L940.5,316.1 L941.1,313.0 L941.7,310.2 L942.4,308.1 L943.0,307.2 L943.7,309.8 L944.3,315.5 L945.0,323.4 L945.6,332.5 L946.3,342.2 L946.9,351.3 L947.6,359.2 L948.2,364.9 L948.9,367.5 L949.5,366.0 L950.1,362.9 L950.8,358.5 L951.4,353.1 L952.0,347.1 L952.6,340.7 L953.3,334.4 L953.9,328.4 L954.5,323.0" fill="none" stroke="#ff1818" stroke-width="1.15" stroke-linejoin="round"/>
<text x="171.0" y="687.3" font-family="Liberation Sans, Arial, sans-serif" stroke="#000" stroke-width="0.45" font-size="33" text-anchor="middle" fill="#000">0</text>
<text x="327.7" y="687.3" font-family="Liberation Sans, Arial, sans-serif" stroke="#000" stroke-width="0.45" font-size="33" text-anchor="middle" fill="#000">400</text>
<text x="484.4" y="687.3" font-family="Liberation Sans, Arial, sans-serif" stroke="#000" stroke-width="0.45" font-size="33" text-anchor="middle" fill="#000">800</text>
<text x="641.1" y="687.3" font-family="Liberation Sans, Arial, sans-serif" stroke="#000" stroke-width="0.45" font-size="33" text-anchor="middle" fill="#000">1,200</text>
<text x="797.8" y="687.3" font-family="Liberation Sans, Arial, sans-serif" stroke="#000" stroke-width="0.45" font-size="33" text-anchor="middle" fill="#000">1,600</text>
<text x="953.0" y="687.3" font-family="Liberation Sans, Arial, sans-serif" stroke="#000" stroke-width="0.45" font-size="33" text-anchor="middle" fill="#000">2,000</text>
<text x="149.2" y="649.2" font-family="Liberation Sans, Arial, sans-serif" stroke="#000" stroke-width="0.45" font-size="33" text-anchor="end" fill="#000">0.000</text>
<text x="149.2" y="545.0" font-family="Liberation Sans, Arial, sans-serif" stroke="#000" stroke-width="0.45" font-size="33" text-anchor="end" fill="#000">0.005</text>
<text x="149.2" y="440.8" font-family="Liberation Sans, Arial, sans-serif" stroke="#000" stroke-width="0.45" font-size="33" text-anchor="end" fill="#000">0.010</text>
<text x="149.2" y="336.6" font-family="Liberation Sans, Arial, sans-serif" stroke="#000" stroke-width="0.45" font-size="33" text-anchor="end" fill="#000">0.015</text>
<text x="149.2" y="232.3" font-family="Liberation Sans, Arial, sans-serif" stroke="#000" stroke-width="0.45" font-size="33" text-anchor="end" fill="#000">0.020</text>
<text x="149.2" y="128.1" font-family="Liberation Sans, Arial, sans-serif" stroke="#000" stroke-width="0.45" font-size="33" text-anchor="end" fill="#000">0.025</text>
<text x="149.2" y="23.9" font-family="Liberation Sans, Arial, sans-serif" stroke="#000" stroke-width="0.45" font-size="33" text-anchor="end" fill="#000">0.030</text>
<text x="563" y="740.6" font-family="Liberation Sans, Arial, sans-serif" stroke="#000" stroke-width="0.45" font-size="33.6" text-anchor="middle" fill="#000">Time (fs)</text>
<text transform="translate(30.5,297) rotate(-90)" font-family="Liberation Sans, Arial, sans-serif" stroke="#000" stroke-width="0.45" font-size="33" text-anchor="middle" fill="#000">Root-mean-square deviation, RMSD (Å)</text>
<line x1="731.6" y1="58.6" x2="799.3" y2="58.6" stroke="#000" stroke-width="2.5"/>
<text transform="translate(808.5,68.5) scale(1.24,1)" font-family="Liberation Serif, Times New Roman, serif" font-style="italic" font-size="30" fill="#000">σ</text>
<text x="834" y="68.5" font-family="Liberation Sans, Arial, sans-serif" stroke="#000" stroke-width="0.45" font-size="29.3" fill="#000">= -1</text>
<line x1="731.6" y1="98.7" x2="799.3" y2="98.7" stroke="#3f3" stroke-width="1.1"/>
<text transform="translate(808.5,108.5) scale(1.24,1)" font-family="Liberation Serif, Times New Roman, serif" font-style="italic" font-size="30" fill="#000">σ</text>
<text x="834" y="108.5" font-family="Liberation Sans, Arial, sans-serif" stroke="#000" stroke-width="0.45" font-size="29.3" fill="#000">= -0.78</text>
<line x1="731.6" y1="139.4" x2="799.3" y2="139.4" stroke="#44f" stroke-width="1.1"/>
<text transform="translate(808.5,148.4) scale(1.24,1)" font-family="Liberation Serif, Times New Roman, serif" font-style="italic" font-size="30" fill="#000">σ</text>
<text x="834" y="148.4" font-family="Liberation Sans, Arial, sans-serif" stroke="#000" stroke-width="0.45" font-size="29.3" fill="#000">= -0.67</text>
<line x1="731.6" y1="179.1" x2="799.3" y2="179.1" stroke="#f44" stroke-width="1.1"/>
<text transform="translate(808.5,188.3) scale(1.24,1)" font-family="Liberation Serif, Times New Roman, serif" font-style="italic" font-size="30" fill="#000">σ</text>
<text x="834" y="188.3" font-family="Liberation Sans, Arial, sans-serif" stroke="#000" stroke-width="0.45" font-size="29.3" fill="#000">= -0.56</text>
</svg></body></html>
